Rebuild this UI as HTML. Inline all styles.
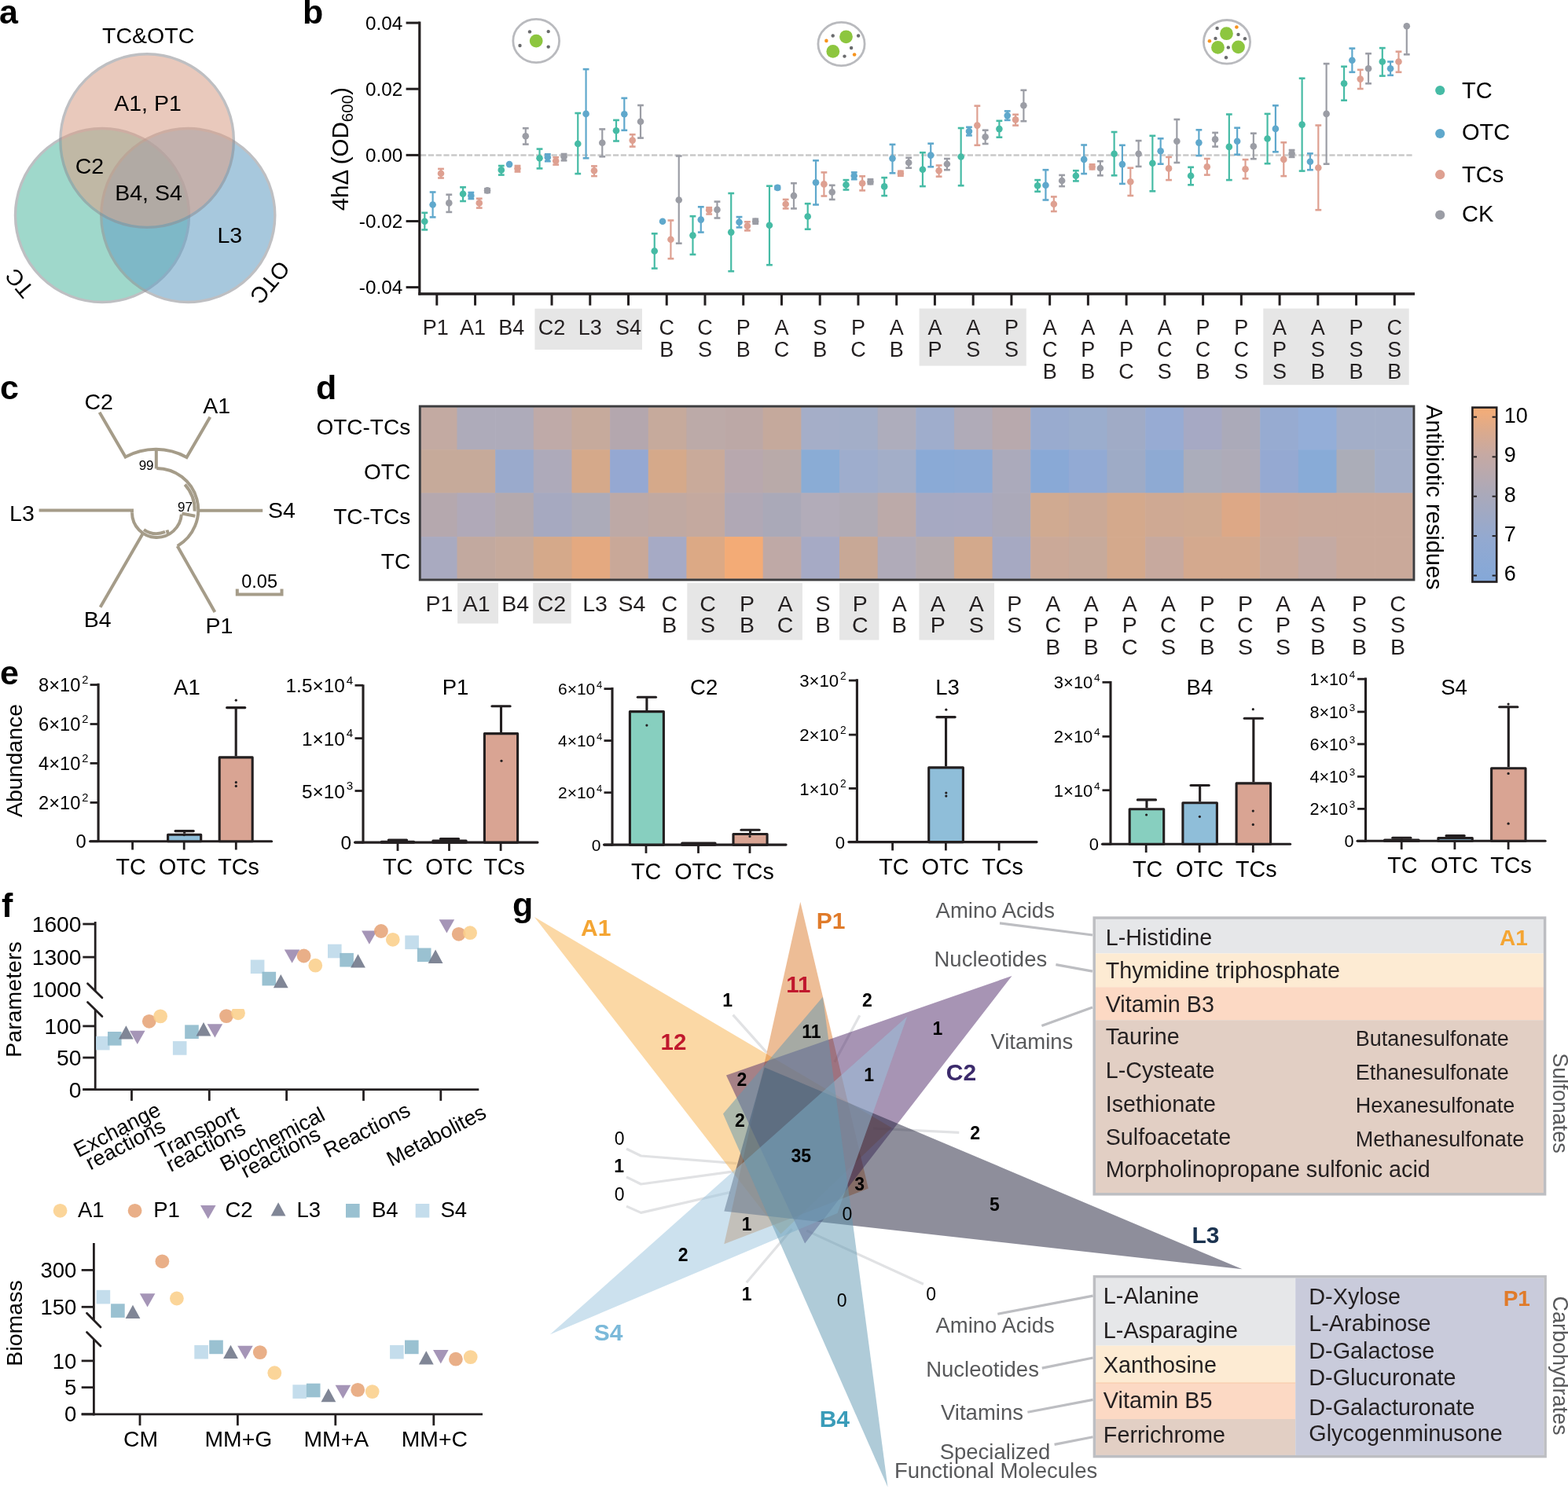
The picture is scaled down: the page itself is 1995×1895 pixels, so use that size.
<!DOCTYPE html>
<html><head><meta charset="utf-8"><title>Figure</title>
<style>
html,body{margin:0;padding:0;background:#fff;}
svg{display:block;}
</style></head>
<body>
<svg width="1995" height="1895" viewBox="0 0 1995 1895" font-family='"Liberation Sans", Arial, Helvetica, sans-serif'>
<rect width="1995" height="1895" fill="#fff"/>
<text x="-1" y="30" font-size="43" font-weight="bold" fill="#000">a</text>
<g opacity="0.57">
<circle cx="130" cy="274" r="110.5" fill="#58bba4" stroke="#8e8f95" stroke-width="3.4"/>
</g>
<g opacity="0.57">
<circle cx="239.3" cy="274" r="110.5" fill="#66a0c5" stroke="#8e8f95" stroke-width="3.4"/>
</g>
<g opacity="0.57">
<circle cx="187.1" cy="179.1" r="110.3" fill="#d9a18a" stroke="#8e8f95" stroke-width="3.4"/>
</g>
<text x="188.7" y="55.4" font-size="28.5" text-anchor="middle" fill="#000">TC&amp;OTC</text>
<text x="188" y="140.7" font-size="28.5" text-anchor="middle" fill="#000">A1, P1</text>
<text x="114" y="220.7" font-size="28.5" text-anchor="middle" fill="#000">C2</text>
<text x="189" y="254.8" font-size="28.5" text-anchor="middle" fill="#000">B4, S4</text>
<text x="292.3" y="309.2" font-size="28.5" text-anchor="middle" fill="#000">L3</text>
<text font-size="28.5" fill="#000" text-anchor="middle" transform="translate(24.6,360.4) rotate(230) translate(0,10)">TC</text>
<text font-size="28.5" fill="#000" text-anchor="middle" transform="translate(343.5,359.4) rotate(130) translate(0,10)">OTC</text>
<text x="385" y="30" font-size="43" font-weight="bold" fill="#000">b</text>
<rect x="680.4" y="392.8" width="136.6" height="52.2" fill="#e6e6e6"/>
<rect x="1169.6" y="392.6" width="136.2" height="73" fill="#e6e6e6"/>
<rect x="1607.3" y="392.6" width="185.4" height="97.2" fill="#e6e6e6"/>
<line x1="535" y1="197.5" x2="1798" y2="197.5" stroke="#c9c9c9" stroke-width="2.4" stroke-dasharray="7.2 2.6"/>
<line x1="533.8" y1="27.6" x2="533.8" y2="375.6" stroke="#231f20" stroke-width="3.2"/>
<line x1="532.3" y1="374" x2="1800" y2="374" stroke="#231f20" stroke-width="3.3"/>
<line x1="516.6" y1="29.1" x2="533.8" y2="29.1" stroke="#231f20" stroke-width="3"/>
<text x="512.2" y="37.8" font-size="24.3" text-anchor="end" fill="#000">0.04</text>
<line x1="516.6" y1="113.2" x2="533.8" y2="113.2" stroke="#231f20" stroke-width="3"/>
<text x="512.2" y="121.9" font-size="24.3" text-anchor="end" fill="#000">0.02</text>
<line x1="516.6" y1="197.4" x2="533.8" y2="197.4" stroke="#231f20" stroke-width="3"/>
<text x="512.2" y="206.1" font-size="24.3" text-anchor="end" fill="#000">0.00</text>
<line x1="516.6" y1="281.5" x2="533.8" y2="281.5" stroke="#231f20" stroke-width="3"/>
<text x="512.2" y="290.2" font-size="24.3" text-anchor="end" fill="#000">-0.02</text>
<line x1="516.6" y1="365.6" x2="533.8" y2="365.6" stroke="#231f20" stroke-width="3"/>
<text x="512.2" y="374.3" font-size="24.3" text-anchor="end" fill="#000">-0.04</text>
<line x1="555.8" y1="374" x2="555.8" y2="388.7" stroke="#231f20" stroke-width="3"/>
<line x1="604.54" y1="374" x2="604.54" y2="388.7" stroke="#231f20" stroke-width="3"/>
<line x1="653.28" y1="374" x2="653.28" y2="388.7" stroke="#231f20" stroke-width="3"/>
<line x1="702.02" y1="374" x2="702.02" y2="388.7" stroke="#231f20" stroke-width="3"/>
<line x1="750.76" y1="374" x2="750.76" y2="388.7" stroke="#231f20" stroke-width="3"/>
<line x1="799.5" y1="374" x2="799.5" y2="388.7" stroke="#231f20" stroke-width="3"/>
<line x1="848.24" y1="374" x2="848.24" y2="388.7" stroke="#231f20" stroke-width="3"/>
<line x1="896.98" y1="374" x2="896.98" y2="388.7" stroke="#231f20" stroke-width="3"/>
<line x1="945.72" y1="374" x2="945.72" y2="388.7" stroke="#231f20" stroke-width="3"/>
<line x1="994.46" y1="374" x2="994.46" y2="388.7" stroke="#231f20" stroke-width="3"/>
<line x1="1043.2" y1="374" x2="1043.2" y2="388.7" stroke="#231f20" stroke-width="3"/>
<line x1="1091.94" y1="374" x2="1091.94" y2="388.7" stroke="#231f20" stroke-width="3"/>
<line x1="1140.68" y1="374" x2="1140.68" y2="388.7" stroke="#231f20" stroke-width="3"/>
<line x1="1189.42" y1="374" x2="1189.42" y2="388.7" stroke="#231f20" stroke-width="3"/>
<line x1="1238.16" y1="374" x2="1238.16" y2="388.7" stroke="#231f20" stroke-width="3"/>
<line x1="1286.9" y1="374" x2="1286.9" y2="388.7" stroke="#231f20" stroke-width="3"/>
<line x1="1335.64" y1="374" x2="1335.64" y2="388.7" stroke="#231f20" stroke-width="3"/>
<line x1="1384.38" y1="374" x2="1384.38" y2="388.7" stroke="#231f20" stroke-width="3"/>
<line x1="1433.12" y1="374" x2="1433.12" y2="388.7" stroke="#231f20" stroke-width="3"/>
<line x1="1481.86" y1="374" x2="1481.86" y2="388.7" stroke="#231f20" stroke-width="3"/>
<line x1="1530.6" y1="374" x2="1530.6" y2="388.7" stroke="#231f20" stroke-width="3"/>
<line x1="1579.34" y1="374" x2="1579.34" y2="388.7" stroke="#231f20" stroke-width="3"/>
<line x1="1628.08" y1="374" x2="1628.08" y2="388.7" stroke="#231f20" stroke-width="3"/>
<line x1="1676.82" y1="374" x2="1676.82" y2="388.7" stroke="#231f20" stroke-width="3"/>
<line x1="1725.56" y1="374" x2="1725.56" y2="388.7" stroke="#231f20" stroke-width="3"/>
<line x1="1774.3" y1="374" x2="1774.3" y2="388.7" stroke="#231f20" stroke-width="3"/>
<text font-size="29.5" fill="#000" text-anchor="middle" transform="translate(442.6,189.7) rotate(-90)">4h&#916; (OD<tspan font-size="20.5" dy="6">600</tspan><tspan dy="-6">)</tspan></text>
<text x="554.3" y="425.6" font-size="27" text-anchor="middle" fill="#231f20">P1</text>
<text x="601.54" y="425.6" font-size="27" text-anchor="middle" fill="#231f20">A1</text>
<text x="650.78" y="425.6" font-size="27" text-anchor="middle" fill="#231f20">B4</text>
<text x="702.02" y="425.6" font-size="27" text-anchor="middle" fill="#231f20">C2</text>
<text x="750.76" y="425.6" font-size="27" text-anchor="middle" fill="#231f20">L3</text>
<text x="799.5" y="425.6" font-size="27" text-anchor="middle" fill="#231f20">S4</text>
<text x="848.24" y="425.6" font-size="27" text-anchor="middle" fill="#231f20">C</text>
<text x="848.24" y="453.6" font-size="27" text-anchor="middle" fill="#231f20">B</text>
<text x="896.98" y="425.6" font-size="27" text-anchor="middle" fill="#231f20">C</text>
<text x="896.98" y="453.6" font-size="27" text-anchor="middle" fill="#231f20">S</text>
<text x="945.72" y="425.6" font-size="27" text-anchor="middle" fill="#231f20">P</text>
<text x="945.72" y="453.6" font-size="27" text-anchor="middle" fill="#231f20">B</text>
<text x="994.46" y="425.6" font-size="27" text-anchor="middle" fill="#231f20">A</text>
<text x="994.46" y="453.6" font-size="27" text-anchor="middle" fill="#231f20">C</text>
<text x="1043.2" y="425.6" font-size="27" text-anchor="middle" fill="#231f20">S</text>
<text x="1043.2" y="453.6" font-size="27" text-anchor="middle" fill="#231f20">B</text>
<text x="1091.94" y="425.6" font-size="27" text-anchor="middle" fill="#231f20">P</text>
<text x="1091.94" y="453.6" font-size="27" text-anchor="middle" fill="#231f20">C</text>
<text x="1140.68" y="425.6" font-size="27" text-anchor="middle" fill="#231f20">A</text>
<text x="1140.68" y="453.6" font-size="27" text-anchor="middle" fill="#231f20">B</text>
<text x="1189.42" y="425.6" font-size="27" text-anchor="middle" fill="#231f20">A</text>
<text x="1189.42" y="453.6" font-size="27" text-anchor="middle" fill="#231f20">P</text>
<text x="1238.16" y="425.6" font-size="27" text-anchor="middle" fill="#231f20">A</text>
<text x="1238.16" y="453.6" font-size="27" text-anchor="middle" fill="#231f20">S</text>
<text x="1286.9" y="425.6" font-size="27" text-anchor="middle" fill="#231f20">P</text>
<text x="1286.9" y="453.6" font-size="27" text-anchor="middle" fill="#231f20">S</text>
<text x="1335.64" y="425.6" font-size="27" text-anchor="middle" fill="#231f20">A</text>
<text x="1335.64" y="453.6" font-size="27" text-anchor="middle" fill="#231f20">C</text>
<text x="1335.64" y="481.6" font-size="27" text-anchor="middle" fill="#231f20">B</text>
<text x="1384.38" y="425.6" font-size="27" text-anchor="middle" fill="#231f20">A</text>
<text x="1384.38" y="453.6" font-size="27" text-anchor="middle" fill="#231f20">P</text>
<text x="1384.38" y="481.6" font-size="27" text-anchor="middle" fill="#231f20">B</text>
<text x="1433.12" y="425.6" font-size="27" text-anchor="middle" fill="#231f20">A</text>
<text x="1433.12" y="453.6" font-size="27" text-anchor="middle" fill="#231f20">P</text>
<text x="1433.12" y="481.6" font-size="27" text-anchor="middle" fill="#231f20">C</text>
<text x="1481.86" y="425.6" font-size="27" text-anchor="middle" fill="#231f20">A</text>
<text x="1481.86" y="453.6" font-size="27" text-anchor="middle" fill="#231f20">C</text>
<text x="1481.86" y="481.6" font-size="27" text-anchor="middle" fill="#231f20">S</text>
<text x="1530.6" y="425.6" font-size="27" text-anchor="middle" fill="#231f20">P</text>
<text x="1530.6" y="453.6" font-size="27" text-anchor="middle" fill="#231f20">C</text>
<text x="1530.6" y="481.6" font-size="27" text-anchor="middle" fill="#231f20">B</text>
<text x="1579.34" y="425.6" font-size="27" text-anchor="middle" fill="#231f20">P</text>
<text x="1579.34" y="453.6" font-size="27" text-anchor="middle" fill="#231f20">C</text>
<text x="1579.34" y="481.6" font-size="27" text-anchor="middle" fill="#231f20">S</text>
<text x="1628.08" y="425.6" font-size="27" text-anchor="middle" fill="#231f20">A</text>
<text x="1628.08" y="453.6" font-size="27" text-anchor="middle" fill="#231f20">P</text>
<text x="1628.08" y="481.6" font-size="27" text-anchor="middle" fill="#231f20">S</text>
<text x="1676.82" y="425.6" font-size="27" text-anchor="middle" fill="#231f20">A</text>
<text x="1676.82" y="453.6" font-size="27" text-anchor="middle" fill="#231f20">S</text>
<text x="1676.82" y="481.6" font-size="27" text-anchor="middle" fill="#231f20">B</text>
<text x="1725.56" y="425.6" font-size="27" text-anchor="middle" fill="#231f20">P</text>
<text x="1725.56" y="453.6" font-size="27" text-anchor="middle" fill="#231f20">S</text>
<text x="1725.56" y="481.6" font-size="27" text-anchor="middle" fill="#231f20">B</text>
<text x="1774.3" y="425.6" font-size="27" text-anchor="middle" fill="#231f20">C</text>
<text x="1774.3" y="453.6" font-size="27" text-anchor="middle" fill="#231f20">S</text>
<text x="1774.3" y="481.6" font-size="27" text-anchor="middle" fill="#231f20">B</text>
<line x1="540.3" y1="270.8" x2="540.3" y2="292.4" stroke="#46bba5" stroke-width="2.2"/>
<line x1="536.4" y1="270.8" x2="544.2" y2="270.8" stroke="#46bba5" stroke-width="2.6"/>
<line x1="536.4" y1="292.4" x2="544.2" y2="292.4" stroke="#46bba5" stroke-width="2.6"/>
<circle cx="540.3" cy="281.7" r="4.3" fill="#46bba5"/>
<line x1="550.6" y1="244.5" x2="550.6" y2="276.4" stroke="#5fa8cc" stroke-width="2.2"/>
<line x1="546.7" y1="244.5" x2="554.5" y2="244.5" stroke="#5fa8cc" stroke-width="2.6"/>
<line x1="546.7" y1="276.4" x2="554.5" y2="276.4" stroke="#5fa8cc" stroke-width="2.6"/>
<circle cx="550.6" cy="260.5" r="4.3" fill="#5fa8cc"/>
<line x1="561" y1="214.9" x2="561" y2="226.5" stroke="#dea091" stroke-width="2.2"/>
<line x1="557.1" y1="214.9" x2="564.9" y2="214.9" stroke="#dea091" stroke-width="2.6"/>
<line x1="557.1" y1="226.5" x2="564.9" y2="226.5" stroke="#dea091" stroke-width="2.6"/>
<circle cx="561" cy="220.8" r="4.3" fill="#dea091"/>
<line x1="571.3" y1="247.7" x2="571.3" y2="269.9" stroke="#9b9da5" stroke-width="2.2"/>
<line x1="567.4" y1="247.7" x2="575.2" y2="247.7" stroke="#9b9da5" stroke-width="2.6"/>
<line x1="567.4" y1="269.9" x2="575.2" y2="269.9" stroke="#9b9da5" stroke-width="2.6"/>
<circle cx="571.3" cy="258.4" r="4.3" fill="#9b9da5"/>
<line x1="589.04" y1="238.3" x2="589.04" y2="256" stroke="#46bba5" stroke-width="2.2"/>
<line x1="585.14" y1="238.3" x2="592.94" y2="238.3" stroke="#46bba5" stroke-width="2.6"/>
<line x1="585.14" y1="256" x2="592.94" y2="256" stroke="#46bba5" stroke-width="2.6"/>
<circle cx="589.04" cy="246.8" r="4.3" fill="#46bba5"/>
<line x1="599.34" y1="245" x2="599.34" y2="253" stroke="#5fa8cc" stroke-width="2.2"/>
<line x1="595.44" y1="245" x2="603.24" y2="245" stroke="#5fa8cc" stroke-width="2.6"/>
<line x1="595.44" y1="253" x2="603.24" y2="253" stroke="#5fa8cc" stroke-width="2.6"/>
<circle cx="599.34" cy="249.1" r="4.3" fill="#5fa8cc"/>
<line x1="609.74" y1="252.7" x2="609.74" y2="264.6" stroke="#dea091" stroke-width="2.2"/>
<line x1="605.84" y1="252.7" x2="613.64" y2="252.7" stroke="#dea091" stroke-width="2.6"/>
<line x1="605.84" y1="264.6" x2="613.64" y2="264.6" stroke="#dea091" stroke-width="2.6"/>
<circle cx="609.74" cy="258.4" r="4.3" fill="#dea091"/>
<line x1="620.04" y1="240.2" x2="620.04" y2="245" stroke="#9b9da5" stroke-width="2.2"/>
<line x1="616.14" y1="240.2" x2="623.94" y2="240.2" stroke="#9b9da5" stroke-width="2.6"/>
<line x1="616.14" y1="245" x2="623.94" y2="245" stroke="#9b9da5" stroke-width="2.6"/>
<circle cx="620.04" cy="242.4" r="4.3" fill="#9b9da5"/>
<line x1="637.78" y1="211" x2="637.78" y2="222.6" stroke="#46bba5" stroke-width="2.2"/>
<line x1="633.88" y1="211" x2="641.68" y2="211" stroke="#46bba5" stroke-width="2.6"/>
<line x1="633.88" y1="222.6" x2="641.68" y2="222.6" stroke="#46bba5" stroke-width="2.6"/>
<circle cx="637.78" cy="216.4" r="4.3" fill="#46bba5"/>
<circle cx="648.08" cy="209.1" r="4.3" fill="#5fa8cc"/>
<line x1="658.48" y1="211" x2="658.48" y2="218.5" stroke="#dea091" stroke-width="2.2"/>
<line x1="654.58" y1="211" x2="662.38" y2="211" stroke="#dea091" stroke-width="2.6"/>
<line x1="654.58" y1="218.5" x2="662.38" y2="218.5" stroke="#dea091" stroke-width="2.6"/>
<circle cx="658.48" cy="214.4" r="4.3" fill="#dea091"/>
<line x1="668.78" y1="163.2" x2="668.78" y2="183.6" stroke="#9b9da5" stroke-width="2.2"/>
<line x1="664.88" y1="163.2" x2="672.68" y2="163.2" stroke="#9b9da5" stroke-width="2.6"/>
<line x1="664.88" y1="183.6" x2="672.68" y2="183.6" stroke="#9b9da5" stroke-width="2.6"/>
<circle cx="668.78" cy="173.3" r="4.3" fill="#9b9da5"/>
<line x1="686.52" y1="189.6" x2="686.52" y2="214.4" stroke="#46bba5" stroke-width="2.2"/>
<line x1="682.62" y1="189.6" x2="690.42" y2="189.6" stroke="#46bba5" stroke-width="2.6"/>
<line x1="682.62" y1="214.4" x2="690.42" y2="214.4" stroke="#46bba5" stroke-width="2.6"/>
<circle cx="686.52" cy="201.3" r="4.3" fill="#46bba5"/>
<line x1="696.82" y1="196.3" x2="696.82" y2="205.2" stroke="#5fa8cc" stroke-width="2.2"/>
<line x1="692.92" y1="196.3" x2="700.72" y2="196.3" stroke="#5fa8cc" stroke-width="2.6"/>
<line x1="692.92" y1="205.2" x2="700.72" y2="205.2" stroke="#5fa8cc" stroke-width="2.6"/>
<circle cx="696.82" cy="200.2" r="4.3" fill="#5fa8cc"/>
<line x1="707.22" y1="200.2" x2="707.22" y2="209.6" stroke="#dea091" stroke-width="2.2"/>
<line x1="703.32" y1="200.2" x2="711.12" y2="200.2" stroke="#dea091" stroke-width="2.6"/>
<line x1="703.32" y1="209.6" x2="711.12" y2="209.6" stroke="#dea091" stroke-width="2.6"/>
<circle cx="707.22" cy="204.8" r="4.3" fill="#dea091"/>
<line x1="717.52" y1="196" x2="717.52" y2="204.3" stroke="#9b9da5" stroke-width="2.2"/>
<line x1="713.62" y1="196" x2="721.42" y2="196" stroke="#9b9da5" stroke-width="2.6"/>
<line x1="713.62" y1="204.3" x2="721.42" y2="204.3" stroke="#9b9da5" stroke-width="2.6"/>
<circle cx="717.52" cy="199.5" r="4.3" fill="#9b9da5"/>
<line x1="735.26" y1="144" x2="735.26" y2="221.1" stroke="#46bba5" stroke-width="2.2"/>
<line x1="731.36" y1="144" x2="739.16" y2="144" stroke="#46bba5" stroke-width="2.6"/>
<line x1="731.36" y1="221.1" x2="739.16" y2="221.1" stroke="#46bba5" stroke-width="2.6"/>
<circle cx="735.26" cy="183" r="4.3" fill="#46bba5"/>
<line x1="745.56" y1="88.1" x2="745.56" y2="201.3" stroke="#5fa8cc" stroke-width="2.2"/>
<line x1="741.66" y1="88.1" x2="749.46" y2="88.1" stroke="#5fa8cc" stroke-width="2.6"/>
<line x1="741.66" y1="201.3" x2="749.46" y2="201.3" stroke="#5fa8cc" stroke-width="2.6"/>
<circle cx="745.56" cy="144.9" r="4.3" fill="#5fa8cc"/>
<line x1="755.96" y1="211.4" x2="755.96" y2="224.1" stroke="#dea091" stroke-width="2.2"/>
<line x1="752.06" y1="211.4" x2="759.86" y2="211.4" stroke="#dea091" stroke-width="2.6"/>
<line x1="752.06" y1="224.1" x2="759.86" y2="224.1" stroke="#dea091" stroke-width="2.6"/>
<circle cx="755.96" cy="217.2" r="4.3" fill="#dea091"/>
<line x1="766.26" y1="164.4" x2="766.26" y2="199.3" stroke="#9b9da5" stroke-width="2.2"/>
<line x1="762.36" y1="164.4" x2="770.16" y2="164.4" stroke="#9b9da5" stroke-width="2.6"/>
<line x1="762.36" y1="199.3" x2="770.16" y2="199.3" stroke="#9b9da5" stroke-width="2.6"/>
<circle cx="766.26" cy="181.8" r="4.3" fill="#9b9da5"/>
<line x1="784" y1="152.9" x2="784" y2="179.5" stroke="#46bba5" stroke-width="2.2"/>
<line x1="780.1" y1="152.9" x2="787.9" y2="152.9" stroke="#46bba5" stroke-width="2.6"/>
<line x1="780.1" y1="179.5" x2="787.9" y2="179.5" stroke="#46bba5" stroke-width="2.6"/>
<circle cx="784" cy="166.2" r="4.3" fill="#46bba5"/>
<line x1="794.3" y1="124.9" x2="794.3" y2="165.8" stroke="#5fa8cc" stroke-width="2.2"/>
<line x1="790.4" y1="124.9" x2="798.2" y2="124.9" stroke="#5fa8cc" stroke-width="2.6"/>
<line x1="790.4" y1="165.8" x2="798.2" y2="165.8" stroke="#5fa8cc" stroke-width="2.6"/>
<circle cx="794.3" cy="145.3" r="4.3" fill="#5fa8cc"/>
<line x1="804.7" y1="171.2" x2="804.7" y2="186.6" stroke="#dea091" stroke-width="2.2"/>
<line x1="800.8" y1="171.2" x2="808.6" y2="171.2" stroke="#dea091" stroke-width="2.6"/>
<line x1="800.8" y1="186.6" x2="808.6" y2="186.6" stroke="#dea091" stroke-width="2.6"/>
<circle cx="804.7" cy="178.6" r="4.3" fill="#dea091"/>
<line x1="815" y1="134" x2="815" y2="175.6" stroke="#9b9da5" stroke-width="2.2"/>
<line x1="811.1" y1="134" x2="818.9" y2="134" stroke="#9b9da5" stroke-width="2.6"/>
<line x1="811.1" y1="175.6" x2="818.9" y2="175.6" stroke="#9b9da5" stroke-width="2.6"/>
<circle cx="815" cy="154.7" r="4.3" fill="#9b9da5"/>
<line x1="832.74" y1="297.3" x2="832.74" y2="341.6" stroke="#46bba5" stroke-width="2.2"/>
<line x1="828.84" y1="297.3" x2="836.64" y2="297.3" stroke="#46bba5" stroke-width="2.6"/>
<line x1="828.84" y1="341.6" x2="836.64" y2="341.6" stroke="#46bba5" stroke-width="2.6"/>
<circle cx="832.74" cy="319.5" r="4.3" fill="#46bba5"/>
<circle cx="843.04" cy="281.7" r="4.3" fill="#5fa8cc"/>
<line x1="853.44" y1="280.5" x2="853.44" y2="329.2" stroke="#dea091" stroke-width="2.2"/>
<line x1="849.54" y1="280.5" x2="857.34" y2="280.5" stroke="#dea091" stroke-width="2.6"/>
<line x1="849.54" y1="329.2" x2="857.34" y2="329.2" stroke="#dea091" stroke-width="2.6"/>
<circle cx="853.44" cy="304.8" r="4.3" fill="#dea091"/>
<line x1="863.74" y1="198.5" x2="863.74" y2="309.7" stroke="#9b9da5" stroke-width="2.2"/>
<line x1="859.84" y1="198.5" x2="867.64" y2="198.5" stroke="#9b9da5" stroke-width="2.6"/>
<line x1="859.84" y1="309.7" x2="867.64" y2="309.7" stroke="#9b9da5" stroke-width="2.6"/>
<circle cx="863.74" cy="254.5" r="4.3" fill="#9b9da5"/>
<line x1="881.48" y1="275.2" x2="881.48" y2="323.9" stroke="#46bba5" stroke-width="2.2"/>
<line x1="877.58" y1="275.2" x2="885.38" y2="275.2" stroke="#46bba5" stroke-width="2.6"/>
<line x1="877.58" y1="323.9" x2="885.38" y2="323.9" stroke="#46bba5" stroke-width="2.6"/>
<circle cx="881.48" cy="299.6" r="4.3" fill="#46bba5"/>
<line x1="891.78" y1="263.3" x2="891.78" y2="295.6" stroke="#5fa8cc" stroke-width="2.2"/>
<line x1="887.88" y1="263.3" x2="895.68" y2="263.3" stroke="#5fa8cc" stroke-width="2.6"/>
<line x1="887.88" y1="295.6" x2="895.68" y2="295.6" stroke="#5fa8cc" stroke-width="2.6"/>
<circle cx="891.78" cy="279.6" r="4.3" fill="#5fa8cc"/>
<line x1="902.18" y1="264.2" x2="902.18" y2="272.5" stroke="#dea091" stroke-width="2.2"/>
<line x1="898.28" y1="264.2" x2="906.08" y2="264.2" stroke="#dea091" stroke-width="2.6"/>
<line x1="898.28" y1="272.5" x2="906.08" y2="272.5" stroke="#dea091" stroke-width="2.6"/>
<circle cx="902.18" cy="267.2" r="4.3" fill="#dea091"/>
<line x1="912.48" y1="256.6" x2="912.48" y2="277.5" stroke="#9b9da5" stroke-width="2.2"/>
<line x1="908.58" y1="256.6" x2="916.38" y2="256.6" stroke="#9b9da5" stroke-width="2.6"/>
<line x1="908.58" y1="277.5" x2="916.38" y2="277.5" stroke="#9b9da5" stroke-width="2.6"/>
<circle cx="912.48" cy="266.9" r="4.3" fill="#9b9da5"/>
<line x1="930.22" y1="246" x2="930.22" y2="345.2" stroke="#46bba5" stroke-width="2.2"/>
<line x1="926.32" y1="246" x2="934.12" y2="246" stroke="#46bba5" stroke-width="2.6"/>
<line x1="926.32" y1="345.2" x2="934.12" y2="345.2" stroke="#46bba5" stroke-width="2.6"/>
<circle cx="930.22" cy="295.6" r="4.3" fill="#46bba5"/>
<line x1="940.52" y1="276.1" x2="940.52" y2="289.4" stroke="#5fa8cc" stroke-width="2.2"/>
<line x1="936.62" y1="276.1" x2="944.42" y2="276.1" stroke="#5fa8cc" stroke-width="2.6"/>
<line x1="936.62" y1="289.4" x2="944.42" y2="289.4" stroke="#5fa8cc" stroke-width="2.6"/>
<circle cx="940.52" cy="282.8" r="4.3" fill="#5fa8cc"/>
<line x1="950.92" y1="282.3" x2="950.92" y2="293.4" stroke="#dea091" stroke-width="2.2"/>
<line x1="947.02" y1="282.3" x2="954.82" y2="282.3" stroke="#dea091" stroke-width="2.6"/>
<line x1="947.02" y1="293.4" x2="954.82" y2="293.4" stroke="#dea091" stroke-width="2.6"/>
<circle cx="950.92" cy="287.6" r="4.3" fill="#dea091"/>
<line x1="961.22" y1="278.7" x2="961.22" y2="284.7" stroke="#9b9da5" stroke-width="2.2"/>
<line x1="957.32" y1="278.7" x2="965.12" y2="278.7" stroke="#9b9da5" stroke-width="2.6"/>
<line x1="957.32" y1="284.7" x2="965.12" y2="284.7" stroke="#9b9da5" stroke-width="2.6"/>
<circle cx="961.22" cy="281.7" r="4.3" fill="#9b9da5"/>
<line x1="978.96" y1="236.7" x2="978.96" y2="337.2" stroke="#46bba5" stroke-width="2.2"/>
<line x1="975.06" y1="236.7" x2="982.86" y2="236.7" stroke="#46bba5" stroke-width="2.6"/>
<line x1="975.06" y1="337.2" x2="982.86" y2="337.2" stroke="#46bba5" stroke-width="2.6"/>
<circle cx="978.96" cy="286.7" r="4.3" fill="#46bba5"/>
<line x1="989.26" y1="236.9" x2="989.26" y2="240.9" stroke="#5fa8cc" stroke-width="2.2"/>
<line x1="985.36" y1="236.9" x2="993.16" y2="236.9" stroke="#5fa8cc" stroke-width="2.6"/>
<line x1="985.36" y1="240.9" x2="993.16" y2="240.9" stroke="#5fa8cc" stroke-width="2.6"/>
<circle cx="989.26" cy="238.9" r="4.3" fill="#5fa8cc"/>
<line x1="999.66" y1="253.9" x2="999.66" y2="265.4" stroke="#dea091" stroke-width="2.2"/>
<line x1="995.76" y1="253.9" x2="1003.56" y2="253.9" stroke="#dea091" stroke-width="2.6"/>
<line x1="995.76" y1="265.4" x2="1003.56" y2="265.4" stroke="#dea091" stroke-width="2.6"/>
<circle cx="999.66" cy="259.8" r="4.3" fill="#dea091"/>
<line x1="1009.96" y1="233.2" x2="1009.96" y2="265.4" stroke="#9b9da5" stroke-width="2.2"/>
<line x1="1006.06" y1="233.2" x2="1013.86" y2="233.2" stroke="#9b9da5" stroke-width="2.6"/>
<line x1="1006.06" y1="265.4" x2="1013.86" y2="265.4" stroke="#9b9da5" stroke-width="2.6"/>
<circle cx="1009.96" cy="249.1" r="4.3" fill="#9b9da5"/>
<line x1="1027.7" y1="259.2" x2="1027.7" y2="291.7" stroke="#46bba5" stroke-width="2.2"/>
<line x1="1023.8" y1="259.2" x2="1031.6" y2="259.2" stroke="#46bba5" stroke-width="2.6"/>
<line x1="1023.8" y1="291.7" x2="1031.6" y2="291.7" stroke="#46bba5" stroke-width="2.6"/>
<circle cx="1027.7" cy="275.5" r="4.3" fill="#46bba5"/>
<line x1="1038" y1="204.3" x2="1038" y2="260.5" stroke="#5fa8cc" stroke-width="2.2"/>
<line x1="1034.1" y1="204.3" x2="1041.9" y2="204.3" stroke="#5fa8cc" stroke-width="2.6"/>
<line x1="1034.1" y1="260.5" x2="1041.9" y2="260.5" stroke="#5fa8cc" stroke-width="2.6"/>
<circle cx="1038" cy="232.3" r="4.3" fill="#5fa8cc"/>
<line x1="1048.4" y1="219.4" x2="1048.4" y2="249.5" stroke="#dea091" stroke-width="2.2"/>
<line x1="1044.5" y1="219.4" x2="1052.3" y2="219.4" stroke="#dea091" stroke-width="2.6"/>
<line x1="1044.5" y1="249.5" x2="1052.3" y2="249.5" stroke="#dea091" stroke-width="2.6"/>
<circle cx="1048.4" cy="234.4" r="4.3" fill="#dea091"/>
<line x1="1058.7" y1="235.8" x2="1058.7" y2="253.9" stroke="#9b9da5" stroke-width="2.2"/>
<line x1="1054.8" y1="235.8" x2="1062.6" y2="235.8" stroke="#9b9da5" stroke-width="2.6"/>
<line x1="1054.8" y1="253.9" x2="1062.6" y2="253.9" stroke="#9b9da5" stroke-width="2.6"/>
<circle cx="1058.7" cy="244.5" r="4.3" fill="#9b9da5"/>
<line x1="1076.44" y1="229.1" x2="1076.44" y2="241.5" stroke="#46bba5" stroke-width="2.2"/>
<line x1="1072.54" y1="229.1" x2="1080.34" y2="229.1" stroke="#46bba5" stroke-width="2.6"/>
<line x1="1072.54" y1="241.5" x2="1080.34" y2="241.5" stroke="#46bba5" stroke-width="2.6"/>
<circle cx="1076.44" cy="235.3" r="4.3" fill="#46bba5"/>
<line x1="1086.74" y1="219.4" x2="1086.74" y2="228.2" stroke="#5fa8cc" stroke-width="2.2"/>
<line x1="1082.84" y1="219.4" x2="1090.64" y2="219.4" stroke="#5fa8cc" stroke-width="2.6"/>
<line x1="1082.84" y1="228.2" x2="1090.64" y2="228.2" stroke="#5fa8cc" stroke-width="2.6"/>
<circle cx="1086.74" cy="223.8" r="4.3" fill="#5fa8cc"/>
<line x1="1097.14" y1="224.3" x2="1097.14" y2="242.4" stroke="#dea091" stroke-width="2.2"/>
<line x1="1093.24" y1="224.3" x2="1101.04" y2="224.3" stroke="#dea091" stroke-width="2.6"/>
<line x1="1093.24" y1="242.4" x2="1101.04" y2="242.4" stroke="#dea091" stroke-width="2.6"/>
<circle cx="1097.14" cy="233.2" r="4.3" fill="#dea091"/>
<line x1="1107.44" y1="228.2" x2="1107.44" y2="234.2" stroke="#9b9da5" stroke-width="2.2"/>
<line x1="1103.54" y1="228.2" x2="1111.34" y2="228.2" stroke="#9b9da5" stroke-width="2.6"/>
<line x1="1103.54" y1="234.2" x2="1111.34" y2="234.2" stroke="#9b9da5" stroke-width="2.6"/>
<circle cx="1107.44" cy="231.2" r="4.3" fill="#9b9da5"/>
<line x1="1125.18" y1="226.1" x2="1125.18" y2="249.1" stroke="#46bba5" stroke-width="2.2"/>
<line x1="1121.28" y1="226.1" x2="1129.08" y2="226.1" stroke="#46bba5" stroke-width="2.6"/>
<line x1="1121.28" y1="249.1" x2="1129.08" y2="249.1" stroke="#46bba5" stroke-width="2.6"/>
<circle cx="1125.18" cy="237.4" r="4.3" fill="#46bba5"/>
<line x1="1135.48" y1="183.9" x2="1135.48" y2="220.3" stroke="#5fa8cc" stroke-width="2.2"/>
<line x1="1131.58" y1="183.9" x2="1139.38" y2="183.9" stroke="#5fa8cc" stroke-width="2.6"/>
<line x1="1131.58" y1="220.3" x2="1139.38" y2="220.3" stroke="#5fa8cc" stroke-width="2.6"/>
<circle cx="1135.48" cy="201.6" r="4.3" fill="#5fa8cc"/>
<line x1="1145.88" y1="217.8" x2="1145.88" y2="223.8" stroke="#dea091" stroke-width="2.2"/>
<line x1="1141.98" y1="217.8" x2="1149.78" y2="217.8" stroke="#dea091" stroke-width="2.6"/>
<line x1="1141.98" y1="223.8" x2="1149.78" y2="223.8" stroke="#dea091" stroke-width="2.6"/>
<circle cx="1145.88" cy="220.8" r="4.3" fill="#dea091"/>
<line x1="1156.18" y1="200.8" x2="1156.18" y2="213.7" stroke="#9b9da5" stroke-width="2.2"/>
<line x1="1152.28" y1="200.8" x2="1160.08" y2="200.8" stroke="#9b9da5" stroke-width="2.6"/>
<line x1="1152.28" y1="213.7" x2="1160.08" y2="213.7" stroke="#9b9da5" stroke-width="2.6"/>
<circle cx="1156.18" cy="207" r="4.3" fill="#9b9da5"/>
<line x1="1173.92" y1="194.2" x2="1173.92" y2="237.1" stroke="#46bba5" stroke-width="2.2"/>
<line x1="1170.02" y1="194.2" x2="1177.82" y2="194.2" stroke="#46bba5" stroke-width="2.6"/>
<line x1="1170.02" y1="237.1" x2="1177.82" y2="237.1" stroke="#46bba5" stroke-width="2.6"/>
<circle cx="1173.92" cy="215.8" r="4.3" fill="#46bba5"/>
<line x1="1184.22" y1="182.7" x2="1184.22" y2="212.3" stroke="#5fa8cc" stroke-width="2.2"/>
<line x1="1180.32" y1="182.7" x2="1188.12" y2="182.7" stroke="#5fa8cc" stroke-width="2.6"/>
<line x1="1180.32" y1="212.3" x2="1188.12" y2="212.3" stroke="#5fa8cc" stroke-width="2.6"/>
<circle cx="1184.22" cy="197.6" r="4.3" fill="#5fa8cc"/>
<line x1="1194.62" y1="210.5" x2="1194.62" y2="224.7" stroke="#dea091" stroke-width="2.2"/>
<line x1="1190.72" y1="210.5" x2="1198.52" y2="210.5" stroke="#dea091" stroke-width="2.6"/>
<line x1="1190.72" y1="224.7" x2="1198.52" y2="224.7" stroke="#dea091" stroke-width="2.6"/>
<circle cx="1194.62" cy="217.2" r="4.3" fill="#dea091"/>
<line x1="1204.92" y1="202" x2="1204.92" y2="216.2" stroke="#9b9da5" stroke-width="2.2"/>
<line x1="1201.02" y1="202" x2="1208.82" y2="202" stroke="#9b9da5" stroke-width="2.6"/>
<line x1="1201.02" y1="216.2" x2="1208.82" y2="216.2" stroke="#9b9da5" stroke-width="2.6"/>
<circle cx="1204.92" cy="208.7" r="4.3" fill="#9b9da5"/>
<line x1="1222.66" y1="163" x2="1222.66" y2="236.2" stroke="#46bba5" stroke-width="2.2"/>
<line x1="1218.76" y1="163" x2="1226.56" y2="163" stroke="#46bba5" stroke-width="2.6"/>
<line x1="1218.76" y1="236.2" x2="1226.56" y2="236.2" stroke="#46bba5" stroke-width="2.6"/>
<circle cx="1222.66" cy="199.5" r="4.3" fill="#46bba5"/>
<line x1="1232.96" y1="161.8" x2="1232.96" y2="172.4" stroke="#5fa8cc" stroke-width="2.2"/>
<line x1="1229.06" y1="161.8" x2="1236.86" y2="161.8" stroke="#5fa8cc" stroke-width="2.6"/>
<line x1="1229.06" y1="172.4" x2="1236.86" y2="172.4" stroke="#5fa8cc" stroke-width="2.6"/>
<circle cx="1232.96" cy="167.1" r="4.3" fill="#5fa8cc"/>
<line x1="1243.36" y1="134.7" x2="1243.36" y2="184.8" stroke="#dea091" stroke-width="2.2"/>
<line x1="1239.46" y1="134.7" x2="1247.26" y2="134.7" stroke="#dea091" stroke-width="2.6"/>
<line x1="1239.46" y1="184.8" x2="1247.26" y2="184.8" stroke="#dea091" stroke-width="2.6"/>
<circle cx="1243.36" cy="159.6" r="4.3" fill="#dea091"/>
<line x1="1253.66" y1="165.7" x2="1253.66" y2="183" stroke="#9b9da5" stroke-width="2.2"/>
<line x1="1249.76" y1="165.7" x2="1257.56" y2="165.7" stroke="#9b9da5" stroke-width="2.6"/>
<line x1="1249.76" y1="183" x2="1257.56" y2="183" stroke="#9b9da5" stroke-width="2.6"/>
<circle cx="1253.66" cy="174.2" r="4.3" fill="#9b9da5"/>
<line x1="1271.4" y1="153.8" x2="1271.4" y2="174.7" stroke="#46bba5" stroke-width="2.2"/>
<line x1="1267.5" y1="153.8" x2="1275.3" y2="153.8" stroke="#46bba5" stroke-width="2.6"/>
<line x1="1267.5" y1="174.7" x2="1275.3" y2="174.7" stroke="#46bba5" stroke-width="2.6"/>
<circle cx="1271.4" cy="164.1" r="4.3" fill="#46bba5"/>
<line x1="1281.7" y1="141.4" x2="1281.7" y2="152.9" stroke="#5fa8cc" stroke-width="2.2"/>
<line x1="1277.8" y1="141.4" x2="1285.6" y2="141.4" stroke="#5fa8cc" stroke-width="2.6"/>
<line x1="1277.8" y1="152.9" x2="1285.6" y2="152.9" stroke="#5fa8cc" stroke-width="2.6"/>
<circle cx="1281.7" cy="147.1" r="4.3" fill="#5fa8cc"/>
<line x1="1292.1" y1="145.8" x2="1292.1" y2="159.6" stroke="#dea091" stroke-width="2.2"/>
<line x1="1288.2" y1="145.8" x2="1296" y2="145.8" stroke="#dea091" stroke-width="2.6"/>
<line x1="1288.2" y1="159.6" x2="1296" y2="159.6" stroke="#dea091" stroke-width="2.6"/>
<circle cx="1292.1" cy="152.4" r="4.3" fill="#dea091"/>
<line x1="1302.4" y1="114.8" x2="1302.4" y2="154.2" stroke="#9b9da5" stroke-width="2.2"/>
<line x1="1298.5" y1="114.8" x2="1306.3" y2="114.8" stroke="#9b9da5" stroke-width="2.6"/>
<line x1="1298.5" y1="154.2" x2="1306.3" y2="154.2" stroke="#9b9da5" stroke-width="2.6"/>
<circle cx="1302.4" cy="134.3" r="4.3" fill="#9b9da5"/>
<line x1="1320.14" y1="229.1" x2="1320.14" y2="243.8" stroke="#46bba5" stroke-width="2.2"/>
<line x1="1316.24" y1="229.1" x2="1324.04" y2="229.1" stroke="#46bba5" stroke-width="2.6"/>
<line x1="1316.24" y1="243.8" x2="1324.04" y2="243.8" stroke="#46bba5" stroke-width="2.6"/>
<circle cx="1320.14" cy="236.2" r="4.3" fill="#46bba5"/>
<line x1="1330.44" y1="216.2" x2="1330.44" y2="254.5" stroke="#5fa8cc" stroke-width="2.2"/>
<line x1="1326.54" y1="216.2" x2="1334.34" y2="216.2" stroke="#5fa8cc" stroke-width="2.6"/>
<line x1="1326.54" y1="254.5" x2="1334.34" y2="254.5" stroke="#5fa8cc" stroke-width="2.6"/>
<circle cx="1330.44" cy="235.7" r="4.3" fill="#5fa8cc"/>
<line x1="1340.84" y1="250.4" x2="1340.84" y2="269" stroke="#dea091" stroke-width="2.2"/>
<line x1="1336.94" y1="250.4" x2="1344.74" y2="250.4" stroke="#dea091" stroke-width="2.6"/>
<line x1="1336.94" y1="269" x2="1344.74" y2="269" stroke="#dea091" stroke-width="2.6"/>
<circle cx="1340.84" cy="259.8" r="4.3" fill="#dea091"/>
<line x1="1351.14" y1="222.9" x2="1351.14" y2="237.1" stroke="#9b9da5" stroke-width="2.2"/>
<line x1="1347.24" y1="222.9" x2="1355.04" y2="222.9" stroke="#9b9da5" stroke-width="2.6"/>
<line x1="1347.24" y1="237.1" x2="1355.04" y2="237.1" stroke="#9b9da5" stroke-width="2.6"/>
<circle cx="1351.14" cy="230" r="4.3" fill="#9b9da5"/>
<line x1="1368.88" y1="217.2" x2="1368.88" y2="230.4" stroke="#46bba5" stroke-width="2.2"/>
<line x1="1364.98" y1="217.2" x2="1372.78" y2="217.2" stroke="#46bba5" stroke-width="2.6"/>
<line x1="1364.98" y1="230.4" x2="1372.78" y2="230.4" stroke="#46bba5" stroke-width="2.6"/>
<circle cx="1368.88" cy="223.8" r="4.3" fill="#46bba5"/>
<line x1="1379.18" y1="184.5" x2="1379.18" y2="221.1" stroke="#5fa8cc" stroke-width="2.2"/>
<line x1="1375.28" y1="184.5" x2="1383.08" y2="184.5" stroke="#5fa8cc" stroke-width="2.6"/>
<line x1="1375.28" y1="221.1" x2="1383.08" y2="221.1" stroke="#5fa8cc" stroke-width="2.6"/>
<circle cx="1379.18" cy="202.9" r="4.3" fill="#5fa8cc"/>
<line x1="1389.58" y1="209.3" x2="1389.58" y2="215.3" stroke="#dea091" stroke-width="2.2"/>
<line x1="1385.68" y1="209.3" x2="1393.48" y2="209.3" stroke="#dea091" stroke-width="2.6"/>
<line x1="1385.68" y1="215.3" x2="1393.48" y2="215.3" stroke="#dea091" stroke-width="2.6"/>
<circle cx="1389.58" cy="212.3" r="4.3" fill="#dea091"/>
<line x1="1399.88" y1="205.2" x2="1399.88" y2="223.3" stroke="#9b9da5" stroke-width="2.2"/>
<line x1="1395.98" y1="205.2" x2="1403.78" y2="205.2" stroke="#9b9da5" stroke-width="2.6"/>
<line x1="1395.98" y1="223.3" x2="1403.78" y2="223.3" stroke="#9b9da5" stroke-width="2.6"/>
<circle cx="1399.88" cy="214" r="4.3" fill="#9b9da5"/>
<line x1="1417.62" y1="168" x2="1417.62" y2="223.3" stroke="#46bba5" stroke-width="2.2"/>
<line x1="1413.72" y1="168" x2="1421.52" y2="168" stroke="#46bba5" stroke-width="2.6"/>
<line x1="1413.72" y1="223.3" x2="1421.52" y2="223.3" stroke="#46bba5" stroke-width="2.6"/>
<circle cx="1417.62" cy="195.8" r="4.3" fill="#46bba5"/>
<line x1="1427.92" y1="184.8" x2="1427.92" y2="233.9" stroke="#5fa8cc" stroke-width="2.2"/>
<line x1="1424.02" y1="184.8" x2="1431.82" y2="184.8" stroke="#5fa8cc" stroke-width="2.6"/>
<line x1="1424.02" y1="233.9" x2="1431.82" y2="233.9" stroke="#5fa8cc" stroke-width="2.6"/>
<circle cx="1427.92" cy="209.1" r="4.3" fill="#5fa8cc"/>
<line x1="1438.32" y1="213.7" x2="1438.32" y2="249" stroke="#dea091" stroke-width="2.2"/>
<line x1="1434.42" y1="213.7" x2="1442.22" y2="213.7" stroke="#dea091" stroke-width="2.6"/>
<line x1="1434.42" y1="249" x2="1442.22" y2="249" stroke="#dea091" stroke-width="2.6"/>
<circle cx="1438.32" cy="231.2" r="4.3" fill="#dea091"/>
<line x1="1448.62" y1="179.1" x2="1448.62" y2="211.9" stroke="#9b9da5" stroke-width="2.2"/>
<line x1="1444.72" y1="179.1" x2="1452.52" y2="179.1" stroke="#9b9da5" stroke-width="2.6"/>
<line x1="1444.72" y1="211.9" x2="1452.52" y2="211.9" stroke="#9b9da5" stroke-width="2.6"/>
<circle cx="1448.62" cy="195.8" r="4.3" fill="#9b9da5"/>
<line x1="1466.36" y1="172.8" x2="1466.36" y2="243.3" stroke="#46bba5" stroke-width="2.2"/>
<line x1="1462.46" y1="172.8" x2="1470.26" y2="172.8" stroke="#46bba5" stroke-width="2.6"/>
<line x1="1462.46" y1="243.3" x2="1470.26" y2="243.3" stroke="#46bba5" stroke-width="2.6"/>
<circle cx="1466.36" cy="207.8" r="4.3" fill="#46bba5"/>
<line x1="1476.66" y1="176.3" x2="1476.66" y2="208.7" stroke="#5fa8cc" stroke-width="2.2"/>
<line x1="1472.76" y1="176.3" x2="1480.56" y2="176.3" stroke="#5fa8cc" stroke-width="2.6"/>
<line x1="1472.76" y1="208.7" x2="1480.56" y2="208.7" stroke="#5fa8cc" stroke-width="2.6"/>
<circle cx="1476.66" cy="192.2" r="4.3" fill="#5fa8cc"/>
<line x1="1487.06" y1="199.9" x2="1487.06" y2="229.1" stroke="#dea091" stroke-width="2.2"/>
<line x1="1483.16" y1="199.9" x2="1490.96" y2="199.9" stroke="#dea091" stroke-width="2.6"/>
<line x1="1483.16" y1="229.1" x2="1490.96" y2="229.1" stroke="#dea091" stroke-width="2.6"/>
<circle cx="1487.06" cy="214.4" r="4.3" fill="#dea091"/>
<line x1="1497.36" y1="152" x2="1497.36" y2="207" stroke="#9b9da5" stroke-width="2.2"/>
<line x1="1493.46" y1="152" x2="1501.26" y2="152" stroke="#9b9da5" stroke-width="2.6"/>
<line x1="1493.46" y1="207" x2="1501.26" y2="207" stroke="#9b9da5" stroke-width="2.6"/>
<circle cx="1497.36" cy="179.8" r="4.3" fill="#9b9da5"/>
<line x1="1515.1" y1="212.8" x2="1515.1" y2="235.3" stroke="#46bba5" stroke-width="2.2"/>
<line x1="1511.2" y1="212.8" x2="1519" y2="212.8" stroke="#46bba5" stroke-width="2.6"/>
<line x1="1511.2" y1="235.3" x2="1519" y2="235.3" stroke="#46bba5" stroke-width="2.6"/>
<circle cx="1515.1" cy="223.8" r="4.3" fill="#46bba5"/>
<line x1="1525.4" y1="165.3" x2="1525.4" y2="198.1" stroke="#5fa8cc" stroke-width="2.2"/>
<line x1="1521.5" y1="165.3" x2="1529.3" y2="165.3" stroke="#5fa8cc" stroke-width="2.6"/>
<line x1="1521.5" y1="198.1" x2="1529.3" y2="198.1" stroke="#5fa8cc" stroke-width="2.6"/>
<circle cx="1525.4" cy="181.6" r="4.3" fill="#5fa8cc"/>
<line x1="1535.8" y1="202" x2="1535.8" y2="222.6" stroke="#dea091" stroke-width="2.2"/>
<line x1="1531.9" y1="202" x2="1539.7" y2="202" stroke="#dea091" stroke-width="2.6"/>
<line x1="1531.9" y1="222.6" x2="1539.7" y2="222.6" stroke="#dea091" stroke-width="2.6"/>
<circle cx="1535.8" cy="212.3" r="4.3" fill="#dea091"/>
<line x1="1546.1" y1="168.9" x2="1546.1" y2="186.6" stroke="#9b9da5" stroke-width="2.2"/>
<line x1="1542.2" y1="168.9" x2="1550" y2="168.9" stroke="#9b9da5" stroke-width="2.6"/>
<line x1="1542.2" y1="186.6" x2="1550" y2="186.6" stroke="#9b9da5" stroke-width="2.6"/>
<circle cx="1546.1" cy="177.4" r="4.3" fill="#9b9da5"/>
<line x1="1563.84" y1="145.5" x2="1563.84" y2="229.1" stroke="#46bba5" stroke-width="2.2"/>
<line x1="1559.94" y1="145.5" x2="1567.74" y2="145.5" stroke="#46bba5" stroke-width="2.6"/>
<line x1="1559.94" y1="229.1" x2="1567.74" y2="229.1" stroke="#46bba5" stroke-width="2.6"/>
<circle cx="1563.84" cy="186.9" r="4.3" fill="#46bba5"/>
<line x1="1574.14" y1="162.7" x2="1574.14" y2="196.7" stroke="#5fa8cc" stroke-width="2.2"/>
<line x1="1570.24" y1="162.7" x2="1578.04" y2="162.7" stroke="#5fa8cc" stroke-width="2.6"/>
<line x1="1570.24" y1="196.7" x2="1578.04" y2="196.7" stroke="#5fa8cc" stroke-width="2.6"/>
<circle cx="1574.14" cy="179.8" r="4.3" fill="#5fa8cc"/>
<line x1="1584.54" y1="203.1" x2="1584.54" y2="227.3" stroke="#dea091" stroke-width="2.2"/>
<line x1="1580.64" y1="203.1" x2="1588.44" y2="203.1" stroke="#dea091" stroke-width="2.6"/>
<line x1="1580.64" y1="227.3" x2="1588.44" y2="227.3" stroke="#dea091" stroke-width="2.6"/>
<circle cx="1584.54" cy="215.3" r="4.3" fill="#dea091"/>
<line x1="1594.84" y1="169.7" x2="1594.84" y2="202.2" stroke="#9b9da5" stroke-width="2.2"/>
<line x1="1590.94" y1="169.7" x2="1598.74" y2="169.7" stroke="#9b9da5" stroke-width="2.6"/>
<line x1="1590.94" y1="202.2" x2="1598.74" y2="202.2" stroke="#9b9da5" stroke-width="2.6"/>
<circle cx="1594.84" cy="186.2" r="4.3" fill="#9b9da5"/>
<line x1="1612.58" y1="144.9" x2="1612.58" y2="208.2" stroke="#46bba5" stroke-width="2.2"/>
<line x1="1608.68" y1="144.9" x2="1616.48" y2="144.9" stroke="#46bba5" stroke-width="2.6"/>
<line x1="1608.68" y1="208.2" x2="1616.48" y2="208.2" stroke="#46bba5" stroke-width="2.6"/>
<circle cx="1612.58" cy="176.5" r="4.3" fill="#46bba5"/>
<line x1="1622.88" y1="134.3" x2="1622.88" y2="193.3" stroke="#5fa8cc" stroke-width="2.2"/>
<line x1="1618.98" y1="134.3" x2="1626.78" y2="134.3" stroke="#5fa8cc" stroke-width="2.6"/>
<line x1="1618.98" y1="193.3" x2="1626.78" y2="193.3" stroke="#5fa8cc" stroke-width="2.6"/>
<circle cx="1622.88" cy="163.9" r="4.3" fill="#5fa8cc"/>
<line x1="1633.28" y1="181.3" x2="1633.28" y2="224.1" stroke="#dea091" stroke-width="2.2"/>
<line x1="1629.38" y1="181.3" x2="1637.18" y2="181.3" stroke="#dea091" stroke-width="2.6"/>
<line x1="1629.38" y1="224.1" x2="1637.18" y2="224.1" stroke="#dea091" stroke-width="2.6"/>
<circle cx="1633.28" cy="202.9" r="4.3" fill="#dea091"/>
<line x1="1643.58" y1="191" x2="1643.58" y2="199.9" stroke="#9b9da5" stroke-width="2.2"/>
<line x1="1639.68" y1="191" x2="1647.48" y2="191" stroke="#9b9da5" stroke-width="2.6"/>
<line x1="1639.68" y1="199.9" x2="1647.48" y2="199.9" stroke="#9b9da5" stroke-width="2.6"/>
<circle cx="1643.58" cy="195.4" r="4.3" fill="#9b9da5"/>
<line x1="1656.62" y1="99.7" x2="1656.62" y2="217.6" stroke="#46bba5" stroke-width="2.2"/>
<line x1="1652.72" y1="99.7" x2="1660.52" y2="99.7" stroke="#46bba5" stroke-width="2.6"/>
<line x1="1652.72" y1="217.6" x2="1660.52" y2="217.6" stroke="#46bba5" stroke-width="2.6"/>
<circle cx="1656.62" cy="158.6" r="4.3" fill="#46bba5"/>
<line x1="1666.92" y1="195.4" x2="1666.92" y2="216.2" stroke="#5fa8cc" stroke-width="2.2"/>
<line x1="1663.02" y1="195.4" x2="1670.82" y2="195.4" stroke="#5fa8cc" stroke-width="2.6"/>
<line x1="1663.02" y1="216.2" x2="1670.82" y2="216.2" stroke="#5fa8cc" stroke-width="2.6"/>
<circle cx="1666.92" cy="205.7" r="4.3" fill="#5fa8cc"/>
<line x1="1677.32" y1="159.5" x2="1677.32" y2="267.2" stroke="#dea091" stroke-width="2.2"/>
<line x1="1673.42" y1="159.5" x2="1681.22" y2="159.5" stroke="#dea091" stroke-width="2.6"/>
<line x1="1673.42" y1="267.2" x2="1681.22" y2="267.2" stroke="#dea091" stroke-width="2.6"/>
<circle cx="1677.32" cy="213.5" r="4.3" fill="#dea091"/>
<line x1="1687.62" y1="81.1" x2="1687.62" y2="208.7" stroke="#9b9da5" stroke-width="2.2"/>
<line x1="1683.72" y1="81.1" x2="1691.52" y2="81.1" stroke="#9b9da5" stroke-width="2.6"/>
<line x1="1683.72" y1="208.7" x2="1691.52" y2="208.7" stroke="#9b9da5" stroke-width="2.6"/>
<circle cx="1687.62" cy="144.9" r="4.3" fill="#9b9da5"/>
<line x1="1710.06" y1="84.7" x2="1710.06" y2="127.7" stroke="#46bba5" stroke-width="2.2"/>
<line x1="1706.16" y1="84.7" x2="1713.96" y2="84.7" stroke="#46bba5" stroke-width="2.6"/>
<line x1="1706.16" y1="127.7" x2="1713.96" y2="127.7" stroke="#46bba5" stroke-width="2.6"/>
<circle cx="1710.06" cy="106.3" r="4.3" fill="#46bba5"/>
<line x1="1720.36" y1="61.6" x2="1720.36" y2="91.8" stroke="#5fa8cc" stroke-width="2.2"/>
<line x1="1716.46" y1="61.6" x2="1724.26" y2="61.6" stroke="#5fa8cc" stroke-width="2.6"/>
<line x1="1716.46" y1="91.8" x2="1724.26" y2="91.8" stroke="#5fa8cc" stroke-width="2.6"/>
<circle cx="1720.36" cy="76.7" r="4.3" fill="#5fa8cc"/>
<line x1="1730.76" y1="88.8" x2="1730.76" y2="113" stroke="#dea091" stroke-width="2.2"/>
<line x1="1726.86" y1="88.8" x2="1734.66" y2="88.8" stroke="#dea091" stroke-width="2.6"/>
<line x1="1726.86" y1="113" x2="1734.66" y2="113" stroke="#dea091" stroke-width="2.6"/>
<circle cx="1730.76" cy="100.6" r="4.3" fill="#dea091"/>
<line x1="1741.06" y1="68.2" x2="1741.06" y2="106.3" stroke="#9b9da5" stroke-width="2.2"/>
<line x1="1737.16" y1="68.2" x2="1744.96" y2="68.2" stroke="#9b9da5" stroke-width="2.6"/>
<line x1="1737.16" y1="106.3" x2="1744.96" y2="106.3" stroke="#9b9da5" stroke-width="2.6"/>
<circle cx="1741.06" cy="87.3" r="4.3" fill="#9b9da5"/>
<line x1="1758.8" y1="61.1" x2="1758.8" y2="96.6" stroke="#46bba5" stroke-width="2.2"/>
<line x1="1754.9" y1="61.1" x2="1762.7" y2="61.1" stroke="#46bba5" stroke-width="2.6"/>
<line x1="1754.9" y1="96.6" x2="1762.7" y2="96.6" stroke="#46bba5" stroke-width="2.6"/>
<circle cx="1758.8" cy="78.5" r="4.3" fill="#46bba5"/>
<line x1="1769.1" y1="78.5" x2="1769.1" y2="95.8" stroke="#5fa8cc" stroke-width="2.2"/>
<line x1="1765.2" y1="78.5" x2="1773" y2="78.5" stroke="#5fa8cc" stroke-width="2.6"/>
<line x1="1765.2" y1="95.8" x2="1773" y2="95.8" stroke="#5fa8cc" stroke-width="2.6"/>
<circle cx="1769.1" cy="87.3" r="4.3" fill="#5fa8cc"/>
<line x1="1779.5" y1="65.7" x2="1779.5" y2="91.8" stroke="#dea091" stroke-width="2.2"/>
<line x1="1775.6" y1="65.7" x2="1783.4" y2="65.7" stroke="#dea091" stroke-width="2.6"/>
<line x1="1775.6" y1="91.8" x2="1783.4" y2="91.8" stroke="#dea091" stroke-width="2.6"/>
<circle cx="1779.5" cy="78.5" r="4.3" fill="#dea091"/>
<line x1="1789.8" y1="33.3" x2="1789.8" y2="69.3" stroke="#9b9da5" stroke-width="2.2"/>
<line x1="1785.9" y1="69.3" x2="1793.7" y2="69.3" stroke="#9b9da5" stroke-width="2.6"/>
<circle cx="1789.8" cy="33.3" r="4.3" fill="#9b9da5"/>
<circle cx="1832.2" cy="115" r="6.1" fill="#46bba5"/>
<text x="1860" y="124.8" font-size="29" fill="#000">TC</text>
<circle cx="1832.2" cy="170" r="6.1" fill="#5fa8cc"/>
<text x="1860" y="177.9" font-size="29" fill="#000">OTC</text>
<circle cx="1832.2" cy="222.2" r="6.1" fill="#dea091"/>
<text x="1860" y="231.9" font-size="29" fill="#000">TCs</text>
<circle cx="1832.2" cy="273.5" r="6.1" fill="#9b9da5"/>
<text x="1860" y="281.7" font-size="29" fill="#000">CK</text>
<ellipse cx="682.2" cy="52" rx="29.4" ry="27.6" fill="#fff" stroke="#b9babe" stroke-width="2.8"/>
<circle cx="682.2" cy="52.1" r="8.4" fill="#8dc63f"/>
<circle cx="674" cy="40.4" r="2.2" fill="#6a6b6d"/>
<circle cx="697.7" cy="40.1" r="2.2" fill="#6a6b6d"/>
<circle cx="661.5" cy="58" r="2.2" fill="#6a6b6d"/>
<circle cx="697.7" cy="59.6" r="2.2" fill="#6a6b6d"/>
<ellipse cx="1070.5" cy="56" rx="29.6" ry="27.6" fill="#fff" stroke="#b9babe" stroke-width="2.8"/>
<circle cx="1076.5" cy="46.8" r="8.4" fill="#8dc63f"/>
<circle cx="1059.8" cy="65.4" r="8.4" fill="#8dc63f"/>
<circle cx="1059.7" cy="45.5" r="2.2" fill="#6a6b6d"/>
<circle cx="1092.1" cy="45.5" r="2.2" fill="#6a6b6d"/>
<circle cx="1083.1" cy="61" r="2.2" fill="#6a6b6d"/>
<circle cx="1074.5" cy="71.6" r="2.2" fill="#6a6b6d"/>
<circle cx="1051.4" cy="51.9" r="2.3" fill="#f7941d"/>
<circle cx="1087.1" cy="69.5" r="2.3" fill="#f7941d"/>
<ellipse cx="1561" cy="53.3" rx="29.6" ry="27.8" fill="#fff" stroke="#b9babe" stroke-width="2.8"/>
<circle cx="1560.5" cy="42.7" r="8.4" fill="#8dc63f"/>
<circle cx="1549.5" cy="60.4" r="8.4" fill="#8dc63f"/>
<circle cx="1575.5" cy="59.9" r="8.4" fill="#8dc63f"/>
<circle cx="1548.6" cy="36" r="2.2" fill="#6a6b6d"/>
<circle cx="1575.5" cy="43.9" r="2.2" fill="#6a6b6d"/>
<circle cx="1546.5" cy="48.9" r="2.2" fill="#6a6b6d"/>
<circle cx="1584" cy="49.2" r="2.2" fill="#6a6b6d"/>
<circle cx="1562.8" cy="60.4" r="2.2" fill="#6a6b6d"/>
<circle cx="1560" cy="73.2" r="2.2" fill="#6a6b6d"/>
<circle cx="1573.4" cy="34.5" r="2.3" fill="#f7941d"/>
<circle cx="1538.9" cy="52.3" r="2.3" fill="#f7941d"/>
<text x="0" y="507.5" font-size="43" font-weight="bold" fill="#000">c</text>
<g fill="none" stroke="#a59c89" stroke-width="4">
<path d="M126.6 524.7 L159.6 581.6 A81 81 0 0 1 237.5 582 L267.3 530.8"/>
<path d="M198.8 572 L198.8 596.5"/>
<path d="M199.2 596 A53 53 0 0 1 225.7 694.9"/>
<path d="M235.24 616.55 A48.5 48.5 0 0 1 247.67 650.69"/>
<path d="M225.7 694.9 L273.4 778.9"/>
<path d="M251 649.8 L334.2 649.8"/>
<path d="M231.5 653.5 L248.3 656.7"/>
<path d="M230.92 654.7 A31.5 31.5 0 0 1 168 652.5"/>
<path d="M168 652.5 L168 649.6 L49.6 649.6"/>
<path d="M210.06 676.89 A29 29 0 0 1 182.98 674.04"/>
<path d="M212.5 674.5 L214.3 680.5"/>
<path d="M182.6 677.6 L127.6 772.8"/>
<path d="M301.8 749.5 L301.8 756.6 L358.5 756.6 L358.5 749.5"/>
</g>
<text x="125.6" y="520.6" font-size="28.5" text-anchor="middle" fill="#000">C2</text>
<text x="275.8" y="525.7" font-size="28.5" text-anchor="middle" fill="#000">A1</text>
<text x="27.9" y="663.4" font-size="28.5" text-anchor="middle" fill="#000">L3</text>
<text x="358.5" y="659.4" font-size="28.5" text-anchor="middle" fill="#000">S4</text>
<text x="124.3" y="798.1" font-size="28.5" text-anchor="middle" fill="#000">B4</text>
<text x="279" y="806.2" font-size="28.5" text-anchor="middle" fill="#000">P1</text>
<text x="186.1" y="597.6" font-size="17" text-anchor="middle" fill="#000">99</text>
<text x="235.4" y="651.3" font-size="17" text-anchor="middle" fill="#000">97</text>
<text x="330.1" y="747.5" font-size="23.5" text-anchor="middle" fill="#000">0.05</text>
<text x="402" y="507.8" font-size="43" font-weight="bold" fill="#000">d</text>
<rect x="535.5" y="518.3" width="46.6" height="54.5" fill="#c3aaa2"/>
<rect x="581.5" y="518.3" width="49.25" height="54.5" fill="#aeabba"/>
<rect x="630.15" y="518.3" width="49.25" height="54.5" fill="#aeabba"/>
<rect x="678.8" y="518.3" width="49.25" height="54.5" fill="#bfaaa8"/>
<rect x="727.45" y="518.3" width="49.25" height="54.5" fill="#c6aa9c"/>
<rect x="776.1" y="518.3" width="49.25" height="54.5" fill="#b4a7ae"/>
<rect x="824.75" y="518.3" width="49.25" height="54.5" fill="#c6aa9c"/>
<rect x="873.4" y="518.3" width="49.25" height="54.5" fill="#bcaaa8"/>
<rect x="922.05" y="518.3" width="49.25" height="54.5" fill="#bca8a6"/>
<rect x="970.7" y="518.3" width="49.25" height="54.5" fill="#c5a99c"/>
<rect x="1019.35" y="518.3" width="49.25" height="54.5" fill="#a5aec8"/>
<rect x="1068" y="518.3" width="49.25" height="54.5" fill="#a3aec8"/>
<rect x="1116.65" y="518.3" width="49.25" height="54.5" fill="#aeadbc"/>
<rect x="1165.3" y="518.3" width="49.25" height="54.5" fill="#9fadcc"/>
<rect x="1213.95" y="518.3" width="49.25" height="54.5" fill="#b0abb8"/>
<rect x="1262.6" y="518.3" width="49.25" height="54.5" fill="#b8a9ad"/>
<rect x="1311.25" y="518.3" width="49.25" height="54.5" fill="#99abcf"/>
<rect x="1359.9" y="518.3" width="49.25" height="54.5" fill="#9badcd"/>
<rect x="1408.55" y="518.3" width="49.25" height="54.5" fill="#a0abc6"/>
<rect x="1457.2" y="518.3" width="49.25" height="54.5" fill="#97abd3"/>
<rect x="1505.85" y="518.3" width="49.25" height="54.5" fill="#a6a9c4"/>
<rect x="1554.5" y="518.3" width="49.25" height="54.5" fill="#abaab9"/>
<rect x="1603.15" y="518.3" width="49.25" height="54.5" fill="#97abd1"/>
<rect x="1651.8" y="518.3" width="49.25" height="54.5" fill="#94aed8"/>
<rect x="1700.45" y="518.3" width="49.25" height="54.5" fill="#a3aec8"/>
<rect x="1749.1" y="518.3" width="48.5" height="54.5" fill="#a3aec8"/>
<rect x="535.5" y="572.2" width="46.6" height="55.7" fill="#c6aa9a"/>
<rect x="581.5" y="572.2" width="49.25" height="55.7" fill="#c6aa9a"/>
<rect x="630.15" y="572.2" width="49.25" height="55.7" fill="#9aaacc"/>
<rect x="678.8" y="572.2" width="49.25" height="55.7" fill="#aeaaba"/>
<rect x="727.45" y="572.2" width="49.25" height="55.7" fill="#d5a98a"/>
<rect x="776.1" y="572.2" width="49.25" height="55.7" fill="#95a8d2"/>
<rect x="824.75" y="572.2" width="49.25" height="55.7" fill="#d5a98a"/>
<rect x="873.4" y="572.2" width="49.25" height="55.7" fill="#c9aa9a"/>
<rect x="922.05" y="572.2" width="49.25" height="55.7" fill="#b8a8ae"/>
<rect x="970.7" y="572.2" width="49.25" height="55.7" fill="#b9aaa9"/>
<rect x="1019.35" y="572.2" width="49.25" height="55.7" fill="#8aacd5"/>
<rect x="1068" y="572.2" width="49.25" height="55.7" fill="#9eadcd"/>
<rect x="1116.65" y="572.2" width="49.25" height="55.7" fill="#a3aec8"/>
<rect x="1165.3" y="572.2" width="49.25" height="55.7" fill="#8aaad6"/>
<rect x="1213.95" y="572.2" width="49.25" height="55.7" fill="#8caad5"/>
<rect x="1262.6" y="572.2" width="49.25" height="55.7" fill="#abaabb"/>
<rect x="1311.25" y="572.2" width="49.25" height="55.7" fill="#89a9d6"/>
<rect x="1359.9" y="572.2" width="49.25" height="55.7" fill="#92aad4"/>
<rect x="1408.55" y="572.2" width="49.25" height="55.7" fill="#9eabc6"/>
<rect x="1457.2" y="572.2" width="49.25" height="55.7" fill="#8eaad3"/>
<rect x="1505.85" y="572.2" width="49.25" height="55.7" fill="#abadbb"/>
<rect x="1554.5" y="572.2" width="49.25" height="55.7" fill="#aeabb8"/>
<rect x="1603.15" y="572.2" width="49.25" height="55.7" fill="#95a9d2"/>
<rect x="1651.8" y="572.2" width="49.25" height="55.7" fill="#88abd7"/>
<rect x="1700.45" y="572.2" width="49.25" height="55.7" fill="#abadb8"/>
<rect x="1749.1" y="572.2" width="48.5" height="55.7" fill="#a3aec8"/>
<rect x="535.5" y="627.3" width="46.6" height="56.4" fill="#b5a8ae"/>
<rect x="581.5" y="627.3" width="49.25" height="56.4" fill="#b0a9b8"/>
<rect x="630.15" y="627.3" width="49.25" height="56.4" fill="#b4a9ad"/>
<rect x="678.8" y="627.3" width="49.25" height="56.4" fill="#a6a9c0"/>
<rect x="727.45" y="627.3" width="49.25" height="56.4" fill="#acabb9"/>
<rect x="776.1" y="627.3" width="49.25" height="56.4" fill="#bda9a6"/>
<rect x="824.75" y="627.3" width="49.25" height="56.4" fill="#c0a9a2"/>
<rect x="873.4" y="627.3" width="49.25" height="56.4" fill="#c4a99f"/>
<rect x="922.05" y="627.3" width="49.25" height="56.4" fill="#b0a8b5"/>
<rect x="970.7" y="627.3" width="49.25" height="56.4" fill="#aaa9b8"/>
<rect x="1019.35" y="627.3" width="49.25" height="56.4" fill="#b2acb9"/>
<rect x="1068" y="627.3" width="49.25" height="56.4" fill="#b0abb5"/>
<rect x="1116.65" y="627.3" width="49.25" height="56.4" fill="#bcaaa9"/>
<rect x="1165.3" y="627.3" width="49.25" height="56.4" fill="#a6a9c2"/>
<rect x="1213.95" y="627.3" width="49.25" height="56.4" fill="#a7a9c2"/>
<rect x="1262.6" y="627.3" width="49.25" height="56.4" fill="#aba9b9"/>
<rect x="1311.25" y="627.3" width="49.25" height="56.4" fill="#d0aa91"/>
<rect x="1359.9" y="627.3" width="49.25" height="56.4" fill="#cba996"/>
<rect x="1408.55" y="627.3" width="49.25" height="56.4" fill="#d4a98c"/>
<rect x="1457.2" y="627.3" width="49.25" height="56.4" fill="#cfa993"/>
<rect x="1505.85" y="627.3" width="49.25" height="56.4" fill="#d0aa91"/>
<rect x="1554.5" y="627.3" width="49.25" height="56.4" fill="#dda886"/>
<rect x="1603.15" y="627.3" width="49.25" height="56.4" fill="#cca898"/>
<rect x="1651.8" y="627.3" width="49.25" height="56.4" fill="#caa99a"/>
<rect x="1700.45" y="627.3" width="49.25" height="56.4" fill="#caa99a"/>
<rect x="1749.1" y="627.3" width="48.5" height="56.4" fill="#caa99a"/>
<rect x="535.5" y="683.1" width="46.6" height="53.6" fill="#a9aac0"/>
<rect x="581.5" y="683.1" width="49.25" height="53.6" fill="#c2a99f"/>
<rect x="630.15" y="683.1" width="49.25" height="53.6" fill="#c6aa9c"/>
<rect x="678.8" y="683.1" width="49.25" height="53.6" fill="#d5a98a"/>
<rect x="727.45" y="683.1" width="49.25" height="53.6" fill="#e4a980"/>
<rect x="776.1" y="683.1" width="49.25" height="53.6" fill="#c9a898"/>
<rect x="824.75" y="683.1" width="49.25" height="53.6" fill="#a6aac5"/>
<rect x="873.4" y="683.1" width="49.25" height="53.6" fill="#dca985"/>
<rect x="922.05" y="683.1" width="49.25" height="53.6" fill="#f3ab76"/>
<rect x="970.7" y="683.1" width="49.25" height="53.6" fill="#bfa9a6"/>
<rect x="1019.35" y="683.1" width="49.25" height="53.6" fill="#a6aac5"/>
<rect x="1068" y="683.1" width="49.25" height="53.6" fill="#c8a896"/>
<rect x="1116.65" y="683.1" width="49.25" height="53.6" fill="#b0abb9"/>
<rect x="1165.3" y="683.1" width="49.25" height="53.6" fill="#b6abae"/>
<rect x="1213.95" y="683.1" width="49.25" height="53.6" fill="#d3a98c"/>
<rect x="1262.6" y="683.1" width="49.25" height="53.6" fill="#a6a9c2"/>
<rect x="1311.25" y="683.1" width="49.25" height="53.6" fill="#cba998"/>
<rect x="1359.9" y="683.1" width="49.25" height="53.6" fill="#c7aa9b"/>
<rect x="1408.55" y="683.1" width="49.25" height="53.6" fill="#d4a98c"/>
<rect x="1457.2" y="683.1" width="49.25" height="53.6" fill="#c7a99e"/>
<rect x="1505.85" y="683.1" width="49.25" height="53.6" fill="#d4a98e"/>
<rect x="1554.5" y="683.1" width="49.25" height="53.6" fill="#d4a98e"/>
<rect x="1603.15" y="683.1" width="49.25" height="53.6" fill="#caa99a"/>
<rect x="1651.8" y="683.1" width="49.25" height="53.6" fill="#c4aaa3"/>
<rect x="1700.45" y="683.1" width="49.25" height="53.6" fill="#caa99a"/>
<rect x="1749.1" y="683.1" width="48.5" height="53.6" fill="#caa99a"/>
<rect x="534.3" y="517.1" width="1264.6" height="220.8" fill="none" stroke="#3d3d3f" stroke-width="3"/>
<text x="522.2" y="553.2" font-size="28" text-anchor="end" fill="#000">OTC-TCs</text>
<text x="522.2" y="609.7" font-size="28" text-anchor="end" fill="#000">OTC</text>
<text x="522.2" y="666.9" font-size="28" text-anchor="end" fill="#000">TC-TCs</text>
<text x="522.2" y="724" font-size="28" text-anchor="end" fill="#000">TC</text>
<rect x="582.1" y="741.9" width="51.9" height="51.6" fill="#e6e6e6"/>
<rect x="678.2" y="741.9" width="48.5" height="51.6" fill="#e6e6e6"/>
<rect x="874.3" y="742.1" width="146.6" height="72.4" fill="#e6e6e6"/>
<rect x="1068" y="742.1" width="50.4" height="72.4" fill="#e6e6e6"/>
<rect x="1169.4" y="742.1" width="95.6" height="72.4" fill="#e6e6e6"/>
<text x="559" y="777.8" font-size="28.5" text-anchor="middle" fill="#231f20">P1</text>
<text x="606.2" y="777.8" font-size="28.5" text-anchor="middle" fill="#231f20">A1</text>
<text x="655.6" y="777.8" font-size="28.5" text-anchor="middle" fill="#231f20">B4</text>
<text x="702" y="777.8" font-size="28.5" text-anchor="middle" fill="#231f20">C2</text>
<text x="757" y="777.8" font-size="28.5" text-anchor="middle" fill="#231f20">L3</text>
<text x="804" y="777.8" font-size="28.5" text-anchor="middle" fill="#231f20">S4</text>
<text x="851.7" y="777.8" font-size="28.5" text-anchor="middle" fill="#231f20">C</text>
<text x="851.7" y="805.2" font-size="28.5" text-anchor="middle" fill="#231f20">B</text>
<text x="900.5" y="777.8" font-size="28.5" text-anchor="middle" fill="#231f20">C</text>
<text x="900.5" y="805.2" font-size="28.5" text-anchor="middle" fill="#231f20">S</text>
<text x="950.4" y="777.8" font-size="28.5" text-anchor="middle" fill="#231f20">P</text>
<text x="950.4" y="805.2" font-size="28.5" text-anchor="middle" fill="#231f20">B</text>
<text x="999" y="777.8" font-size="28.5" text-anchor="middle" fill="#231f20">A</text>
<text x="999" y="805.2" font-size="28.5" text-anchor="middle" fill="#231f20">C</text>
<text x="1047" y="777.8" font-size="28.5" text-anchor="middle" fill="#231f20">S</text>
<text x="1047" y="805.2" font-size="28.5" text-anchor="middle" fill="#231f20">B</text>
<text x="1094.2" y="777.8" font-size="28.5" text-anchor="middle" fill="#231f20">P</text>
<text x="1094.2" y="805.2" font-size="28.5" text-anchor="middle" fill="#231f20">C</text>
<text x="1144.2" y="777.8" font-size="28.5" text-anchor="middle" fill="#231f20">A</text>
<text x="1144.2" y="805.2" font-size="28.5" text-anchor="middle" fill="#231f20">B</text>
<text x="1193.2" y="777.8" font-size="28.5" text-anchor="middle" fill="#231f20">A</text>
<text x="1193.2" y="805.2" font-size="28.5" text-anchor="middle" fill="#231f20">P</text>
<text x="1242.2" y="777.8" font-size="28.5" text-anchor="middle" fill="#231f20">A</text>
<text x="1242.2" y="805.2" font-size="28.5" text-anchor="middle" fill="#231f20">S</text>
<text x="1290.7" y="777.8" font-size="28.5" text-anchor="middle" fill="#231f20">P</text>
<text x="1290.7" y="805.2" font-size="28.5" text-anchor="middle" fill="#231f20">S</text>
<text x="1339.8" y="777.8" font-size="28.5" text-anchor="middle" fill="#231f20">A</text>
<text x="1339.8" y="805.2" font-size="28.5" text-anchor="middle" fill="#231f20">C</text>
<text x="1339.8" y="832.6" font-size="28.5" text-anchor="middle" fill="#231f20">B</text>
<text x="1388.3" y="777.8" font-size="28.5" text-anchor="middle" fill="#231f20">A</text>
<text x="1388.3" y="805.2" font-size="28.5" text-anchor="middle" fill="#231f20">P</text>
<text x="1388.3" y="832.6" font-size="28.5" text-anchor="middle" fill="#231f20">B</text>
<text x="1437.3" y="777.8" font-size="28.5" text-anchor="middle" fill="#231f20">A</text>
<text x="1437.3" y="805.2" font-size="28.5" text-anchor="middle" fill="#231f20">P</text>
<text x="1437.3" y="832.6" font-size="28.5" text-anchor="middle" fill="#231f20">C</text>
<text x="1486.4" y="777.8" font-size="28.5" text-anchor="middle" fill="#231f20">A</text>
<text x="1486.4" y="805.2" font-size="28.5" text-anchor="middle" fill="#231f20">C</text>
<text x="1486.4" y="832.6" font-size="28.5" text-anchor="middle" fill="#231f20">S</text>
<text x="1535.9" y="777.8" font-size="28.5" text-anchor="middle" fill="#231f20">P</text>
<text x="1535.9" y="805.2" font-size="28.5" text-anchor="middle" fill="#231f20">C</text>
<text x="1535.9" y="832.6" font-size="28.5" text-anchor="middle" fill="#231f20">B</text>
<text x="1584.4" y="777.8" font-size="28.5" text-anchor="middle" fill="#231f20">P</text>
<text x="1584.4" y="805.2" font-size="28.5" text-anchor="middle" fill="#231f20">C</text>
<text x="1584.4" y="832.6" font-size="28.5" text-anchor="middle" fill="#231f20">S</text>
<text x="1632.5" y="777.8" font-size="28.5" text-anchor="middle" fill="#231f20">A</text>
<text x="1632.5" y="805.2" font-size="28.5" text-anchor="middle" fill="#231f20">P</text>
<text x="1632.5" y="832.6" font-size="28.5" text-anchor="middle" fill="#231f20">S</text>
<text x="1676.8" y="777.8" font-size="28.5" text-anchor="middle" fill="#231f20">A</text>
<text x="1676.8" y="805.2" font-size="28.5" text-anchor="middle" fill="#231f20">S</text>
<text x="1676.8" y="832.6" font-size="28.5" text-anchor="middle" fill="#231f20">B</text>
<text x="1729.6" y="777.8" font-size="28.5" text-anchor="middle" fill="#231f20">P</text>
<text x="1729.6" y="805.2" font-size="28.5" text-anchor="middle" fill="#231f20">S</text>
<text x="1729.6" y="832.6" font-size="28.5" text-anchor="middle" fill="#231f20">B</text>
<text x="1778.6" y="777.8" font-size="28.5" text-anchor="middle" fill="#231f20">C</text>
<text x="1778.6" y="805.2" font-size="28.5" text-anchor="middle" fill="#231f20">S</text>
<text x="1778.6" y="832.6" font-size="28.5" text-anchor="middle" fill="#231f20">B</text>
<defs><linearGradient id="cb" x1="0" y1="0" x2="0" y2="1"><stop offset="0" stop-color="#f6ad76"/><stop offset="0.13" stop-color="#dcaa8c"/><stop offset="0.27" stop-color="#c6a9a3"/><stop offset="0.5" stop-color="#aaa9ba"/><stop offset="0.75" stop-color="#93a9d0"/><stop offset="1" stop-color="#84a8d8"/></linearGradient></defs>
<rect x="1873.4" y="518.6" width="30.8" height="221.9" fill="url(#cb)" stroke="#231f20" stroke-width="2.6"/>
<line x1="1874.7" y1="530.7" x2="1879" y2="530.7" stroke="#231f20" stroke-width="2"/>
<line x1="1898.6" y1="530.7" x2="1902.9" y2="530.7" stroke="#231f20" stroke-width="2"/>
<text x="1913.8" y="537.5" font-size="27" fill="#000">10</text>
<line x1="1874.7" y1="581.4" x2="1879" y2="581.4" stroke="#231f20" stroke-width="2"/>
<line x1="1898.6" y1="581.4" x2="1902.9" y2="581.4" stroke="#231f20" stroke-width="2"/>
<text x="1913.8" y="588.2" font-size="27" fill="#000">9</text>
<line x1="1874.7" y1="631.7" x2="1879" y2="631.7" stroke="#231f20" stroke-width="2"/>
<line x1="1898.6" y1="631.7" x2="1902.9" y2="631.7" stroke="#231f20" stroke-width="2"/>
<text x="1913.8" y="638.5" font-size="27" fill="#000">8</text>
<line x1="1874.7" y1="682.1" x2="1879" y2="682.1" stroke="#231f20" stroke-width="2"/>
<line x1="1898.6" y1="682.1" x2="1902.9" y2="682.1" stroke="#231f20" stroke-width="2"/>
<text x="1913.8" y="688.9" font-size="27" fill="#000">7</text>
<line x1="1874.7" y1="732.5" x2="1879" y2="732.5" stroke="#231f20" stroke-width="2"/>
<line x1="1898.6" y1="732.5" x2="1902.9" y2="732.5" stroke="#231f20" stroke-width="2"/>
<text x="1913.8" y="739.3" font-size="27" fill="#000">6</text>
<text font-size="29" fill="#000" transform="translate(1814.5,515.2) rotate(90)">Antibiotic residues</text>
<text x="0" y="870.6" font-size="43" font-weight="bold" fill="#000">e</text>
<line x1="125.1" y1="869.7" x2="125.1" y2="1072" stroke="#231f20" stroke-width="3.1"/>
<line x1="114.6" y1="1070.7" x2="345.6" y2="1070.7" stroke="#231f20" stroke-width="3.1" stroke-linecap="round"/>
<line x1="114.6" y1="871.5" x2="125.1" y2="871.5" stroke="#231f20" stroke-width="2.8"/>
<text x="112.4" y="880.27" font-size="23.7" text-anchor="end" fill="#000">8&#215;10<tspan font-size="14.69" dx="1.9" dy="-9.95">2</tspan></text>
<line x1="114.6" y1="921.5" x2="125.1" y2="921.5" stroke="#231f20" stroke-width="2.8"/>
<text x="112.4" y="930.27" font-size="23.7" text-anchor="end" fill="#000">6&#215;10<tspan font-size="14.69" dx="1.9" dy="-9.95">2</tspan></text>
<line x1="114.6" y1="971.4" x2="125.1" y2="971.4" stroke="#231f20" stroke-width="2.8"/>
<text x="112.4" y="980.17" font-size="23.7" text-anchor="end" fill="#000">4&#215;10<tspan font-size="14.69" dx="1.9" dy="-9.95">2</tspan></text>
<line x1="114.6" y1="1021.4" x2="125.1" y2="1021.4" stroke="#231f20" stroke-width="2.8"/>
<text x="112.4" y="1030.17" font-size="23.7" text-anchor="end" fill="#000">2&#215;10<tspan font-size="14.69" dx="1.9" dy="-9.95">2</tspan></text>
<line x1="114.6" y1="1070.7" x2="125.1" y2="1070.7" stroke="#231f20" stroke-width="2.8"/>
<text x="109.6" y="1079.47" font-size="23.7" text-anchor="end" fill="#000">0</text>
<line x1="168.6" y1="1070.7" x2="168.6" y2="1081.5" stroke="#231f20" stroke-width="2.8"/>
<line x1="234.2" y1="1070.7" x2="234.2" y2="1081.5" stroke="#231f20" stroke-width="2.8"/>
<line x1="300.3" y1="1070.7" x2="300.3" y2="1081.5" stroke="#231f20" stroke-width="2.8"/>
<text x="166.7" y="1113.2" font-size="28.7" text-anchor="middle" fill="#000">TC</text>
<text x="232.3" y="1113.2" font-size="28.7" text-anchor="middle" fill="#000">OTC</text>
<text x="303.5" y="1113.2" font-size="28.7" text-anchor="middle" fill="#000">TCs</text>
<text x="237.9" y="883.7" font-size="27.5" text-anchor="middle" fill="#000">A1</text>
<line x1="234.65" y1="1060.7" x2="234.65" y2="1057.6" stroke="#231f20" stroke-width="3.1"/>
<line x1="223.05" y1="1057.6" x2="246.25" y2="1057.6" stroke="#231f20" stroke-width="3.1" stroke-linecap="round"/>
<rect x="213.6" y="1062.2" width="42.1" height="8.5" fill="#8fbed9" stroke="#231f20" stroke-width="3.1" stroke-linejoin="round"/>
<circle cx="234.2" cy="1062.6" r="1.6" fill="#231f20"/>
<line x1="300.2" y1="962.4" x2="300.2" y2="900.6" stroke="#231f20" stroke-width="3.1"/>
<line x1="288.6" y1="900.6" x2="311.8" y2="900.6" stroke="#231f20" stroke-width="3.1" stroke-linecap="round"/>
<rect x="279.2" y="963.9" width="42" height="106.8" fill="#d9a493" stroke="#231f20" stroke-width="3.1" stroke-linejoin="round"/>
<circle cx="300.3" cy="891.2" r="1.6" fill="#231f20"/>
<circle cx="300.3" cy="995.7" r="1.6" fill="#231f20"/>
<circle cx="300.3" cy="1000.4" r="1.6" fill="#231f20"/>
<line x1="462" y1="871.3" x2="462" y2="1073.4" stroke="#231f20" stroke-width="3.1"/>
<line x1="451.5" y1="1072.1" x2="684" y2="1072.1" stroke="#231f20" stroke-width="3.1" stroke-linecap="round"/>
<line x1="451.5" y1="872.2" x2="462" y2="872.2" stroke="#231f20" stroke-width="2.8"/>
<text x="449.2" y="881.23" font-size="24.4" text-anchor="end" fill="#000">1.5&#215;10<tspan font-size="15.13" dx="1.95" dy="-10.25">4</tspan></text>
<line x1="451.5" y1="939.6" x2="462" y2="939.6" stroke="#231f20" stroke-width="2.8"/>
<text x="449.2" y="948.63" font-size="24.4" text-anchor="end" fill="#000">1&#215;10<tspan font-size="15.13" dx="1.95" dy="-10.25">4</tspan></text>
<line x1="451.5" y1="1006.5" x2="462" y2="1006.5" stroke="#231f20" stroke-width="2.8"/>
<text x="449.2" y="1015.53" font-size="24.4" text-anchor="end" fill="#000">5&#215;10<tspan font-size="15.13" dx="1.95" dy="-10.25">3</tspan></text>
<line x1="451.5" y1="1072.1" x2="462" y2="1072.1" stroke="#231f20" stroke-width="2.8"/>
<text x="447.1" y="1081.13" font-size="24.4" text-anchor="end" fill="#000">0</text>
<line x1="506" y1="1072.1" x2="506" y2="1082.9" stroke="#231f20" stroke-width="2.8"/>
<line x1="571.5" y1="1072.1" x2="571.5" y2="1082.9" stroke="#231f20" stroke-width="2.8"/>
<line x1="637.1" y1="1072.1" x2="637.1" y2="1082.9" stroke="#231f20" stroke-width="2.8"/>
<text x="506" y="1113.2" font-size="28.7" text-anchor="middle" fill="#000">TC</text>
<text x="571.5" y="1113.2" font-size="28.7" text-anchor="middle" fill="#000">OTC</text>
<text x="641.5" y="1113.2" font-size="28.7" text-anchor="middle" fill="#000">TCs</text>
<text x="579.5" y="883.7" font-size="27.5" text-anchor="middle" fill="#000">P1</text>
<line x1="505.95" y1="1069.8" x2="505.95" y2="1069" stroke="#231f20" stroke-width="3.1"/>
<line x1="494.35" y1="1069" x2="517.55" y2="1069" stroke="#231f20" stroke-width="3.1" stroke-linecap="round"/>
<rect x="485.3" y="1071.3" width="41.3" height="0.8" fill="#87cfbf" stroke="#231f20" stroke-width="3.1" stroke-linejoin="round"/>
<line x1="572" y1="1068.6" x2="572" y2="1067.5" stroke="#231f20" stroke-width="3.1"/>
<line x1="560.4" y1="1067.5" x2="583.6" y2="1067.5" stroke="#231f20" stroke-width="3.1" stroke-linecap="round"/>
<rect x="550.9" y="1070.1" width="42.2" height="2" fill="#8fbed9" stroke="#231f20" stroke-width="3.1" stroke-linejoin="round"/>
<line x1="637.5" y1="932.1" x2="637.5" y2="898.8" stroke="#231f20" stroke-width="3.1"/>
<line x1="625.9" y1="898.8" x2="649.1" y2="898.8" stroke="#231f20" stroke-width="3.1" stroke-linecap="round"/>
<rect x="616.4" y="933.6" width="42.2" height="138.5" fill="#d9a493" stroke="#231f20" stroke-width="3.1" stroke-linejoin="round"/>
<circle cx="638" cy="968.3" r="1.6" fill="#231f20"/>
<line x1="779" y1="874.9" x2="779" y2="1076.4" stroke="#231f20" stroke-width="3.1"/>
<line x1="768.5" y1="1075.1" x2="1000.1" y2="1075.1" stroke="#231f20" stroke-width="3.1" stroke-linecap="round"/>
<line x1="768.5" y1="876.6" x2="779" y2="876.6" stroke="#231f20" stroke-width="2.8"/>
<text x="766.2" y="884.37" font-size="21" text-anchor="end" fill="#000">6&#215;10<tspan font-size="13.02" dx="1.68" dy="-8.82">4</tspan></text>
<line x1="768.5" y1="942.6" x2="779" y2="942.6" stroke="#231f20" stroke-width="2.8"/>
<text x="766.2" y="950.37" font-size="21" text-anchor="end" fill="#000">4&#215;10<tspan font-size="13.02" dx="1.68" dy="-8.82">4</tspan></text>
<line x1="768.5" y1="1008.7" x2="779" y2="1008.7" stroke="#231f20" stroke-width="2.8"/>
<text x="766.2" y="1016.47" font-size="21" text-anchor="end" fill="#000">2&#215;10<tspan font-size="13.02" dx="1.68" dy="-8.82">4</tspan></text>
<line x1="768.5" y1="1075.1" x2="779" y2="1075.1" stroke="#231f20" stroke-width="2.8"/>
<text x="764.5" y="1082.87" font-size="21" text-anchor="end" fill="#000">0</text>
<line x1="822" y1="1075.1" x2="822" y2="1085.9" stroke="#231f20" stroke-width="2.8"/>
<line x1="888.5" y1="1075.1" x2="888.5" y2="1085.9" stroke="#231f20" stroke-width="2.8"/>
<line x1="954" y1="1075.1" x2="954" y2="1085.9" stroke="#231f20" stroke-width="2.8"/>
<text x="822" y="1118.5" font-size="28.7" text-anchor="middle" fill="#000">TC</text>
<text x="888.5" y="1118.5" font-size="28.7" text-anchor="middle" fill="#000">OTC</text>
<text x="958.5" y="1118.5" font-size="28.7" text-anchor="middle" fill="#000">TCs</text>
<text x="895.6" y="883.7" font-size="27.5" text-anchor="middle" fill="#000">C2</text>
<line x1="822.9" y1="904.1" x2="822.9" y2="887.3" stroke="#231f20" stroke-width="3.1"/>
<line x1="811.3" y1="887.3" x2="834.5" y2="887.3" stroke="#231f20" stroke-width="3.1" stroke-linecap="round"/>
<rect x="801.4" y="905.6" width="43" height="169.5" fill="#87cfbf" stroke="#231f20" stroke-width="3.1" stroke-linejoin="round"/>
<circle cx="822.9" cy="923.1" r="1.6" fill="#231f20"/>
<rect x="867.8" y="1073.1" width="42.2" height="2" fill="#8fbed9" stroke="#231f20" stroke-width="3.1" stroke-linejoin="round"/>
<line x1="954.55" y1="1060" x2="954.55" y2="1056.2" stroke="#231f20" stroke-width="3.1"/>
<line x1="942.95" y1="1056.2" x2="966.15" y2="1056.2" stroke="#231f20" stroke-width="3.1" stroke-linecap="round"/>
<rect x="933" y="1061.5" width="43.1" height="13.6" fill="#d9a493" stroke="#231f20" stroke-width="3.1" stroke-linejoin="round"/>
<circle cx="954" cy="1064.5" r="1.6" fill="#231f20"/>
<line x1="1090.4" y1="864.2" x2="1090.4" y2="1072.9" stroke="#231f20" stroke-width="3.1"/>
<line x1="1079.9" y1="1071.6" x2="1319" y2="1071.6" stroke="#231f20" stroke-width="3.1" stroke-linecap="round"/>
<line x1="1079.9" y1="866" x2="1090.4" y2="866" stroke="#231f20" stroke-width="2.8"/>
<text x="1076.6" y="874.21" font-size="22.2" text-anchor="end" fill="#000">3&#215;10<tspan font-size="13.76" dx="1.78" dy="-9.32">2</tspan></text>
<line x1="1079.9" y1="935.1" x2="1090.4" y2="935.1" stroke="#231f20" stroke-width="2.8"/>
<text x="1076.6" y="943.31" font-size="22.2" text-anchor="end" fill="#000">2&#215;10<tspan font-size="13.76" dx="1.78" dy="-9.32">2</tspan></text>
<line x1="1079.9" y1="1003.4" x2="1090.4" y2="1003.4" stroke="#231f20" stroke-width="2.8"/>
<text x="1076.6" y="1011.61" font-size="22.2" text-anchor="end" fill="#000">1&#215;10<tspan font-size="13.76" dx="1.78" dy="-9.32">2</tspan></text>
<line x1="1079.9" y1="1071.6" x2="1090.4" y2="1071.6" stroke="#231f20" stroke-width="2.8"/>
<text x="1075" y="1079.81" font-size="22.2" text-anchor="end" fill="#000">0</text>
<line x1="1135.6" y1="1071.6" x2="1135.6" y2="1082.4" stroke="#231f20" stroke-width="2.8"/>
<line x1="1203.4" y1="1071.6" x2="1203.4" y2="1082.4" stroke="#231f20" stroke-width="2.8"/>
<line x1="1271.1" y1="1071.6" x2="1271.1" y2="1082.4" stroke="#231f20" stroke-width="2.8"/>
<text x="1137.3" y="1113.2" font-size="28.7" text-anchor="middle" fill="#000">TC</text>
<text x="1202.9" y="1113.2" font-size="28.7" text-anchor="middle" fill="#000">OTC</text>
<text x="1275.6" y="1113.2" font-size="28.7" text-anchor="middle" fill="#000">TCs</text>
<text x="1205.6" y="883.7" font-size="27.5" text-anchor="middle" fill="#000">L3</text>
<line x1="1203.55" y1="975.4" x2="1203.55" y2="912.6" stroke="#231f20" stroke-width="3.1"/>
<line x1="1191.95" y1="912.6" x2="1215.15" y2="912.6" stroke="#231f20" stroke-width="3.1" stroke-linecap="round"/>
<rect x="1181.7" y="976.9" width="43.7" height="94.7" fill="#8fbed9" stroke="#231f20" stroke-width="3.1" stroke-linejoin="round"/>
<circle cx="1203.8" cy="903.2" r="1.6" fill="#231f20"/>
<circle cx="1203.8" cy="1009" r="1.6" fill="#231f20"/>
<circle cx="1203.8" cy="1013.1" r="1.6" fill="#231f20"/>
<line x1="1413" y1="866.9" x2="1413" y2="1075.5" stroke="#231f20" stroke-width="3.1"/>
<line x1="1402.5" y1="1074.2" x2="1641.6" y2="1074.2" stroke="#231f20" stroke-width="3.1" stroke-linecap="round"/>
<line x1="1402.5" y1="868.3" x2="1413" y2="868.3" stroke="#231f20" stroke-width="2.8"/>
<text x="1399.7" y="876.44" font-size="22" text-anchor="end" fill="#000">3&#215;10<tspan font-size="13.64" dx="1.76" dy="-9.24">4</tspan></text>
<line x1="1402.5" y1="937.3" x2="1413" y2="937.3" stroke="#231f20" stroke-width="2.8"/>
<text x="1399.7" y="945.44" font-size="22" text-anchor="end" fill="#000">2&#215;10<tspan font-size="13.64" dx="1.76" dy="-9.24">4</tspan></text>
<line x1="1402.5" y1="1005.7" x2="1413" y2="1005.7" stroke="#231f20" stroke-width="2.8"/>
<text x="1399.7" y="1013.84" font-size="22" text-anchor="end" fill="#000">1&#215;10<tspan font-size="13.64" dx="1.76" dy="-9.24">4</tspan></text>
<line x1="1402.5" y1="1074.2" x2="1413" y2="1074.2" stroke="#231f20" stroke-width="2.8"/>
<text x="1398" y="1082.34" font-size="22" text-anchor="end" fill="#000">0</text>
<line x1="1458.2" y1="1074.2" x2="1458.2" y2="1085" stroke="#231f20" stroke-width="2.8"/>
<line x1="1526.1" y1="1074.2" x2="1526.1" y2="1085" stroke="#231f20" stroke-width="2.8"/>
<line x1="1594.3" y1="1074.2" x2="1594.3" y2="1085" stroke="#231f20" stroke-width="2.8"/>
<text x="1460" y="1115.9" font-size="28.7" text-anchor="middle" fill="#000">TC</text>
<text x="1526.4" y="1115.9" font-size="28.7" text-anchor="middle" fill="#000">OTC</text>
<text x="1598.2" y="1115.9" font-size="28.7" text-anchor="middle" fill="#000">TCs</text>
<text x="1526.4" y="883.7" font-size="27.5" text-anchor="middle" fill="#000">B4</text>
<line x1="1458.95" y1="1028.2" x2="1458.95" y2="1017.9" stroke="#231f20" stroke-width="3.1"/>
<line x1="1447.35" y1="1017.9" x2="1470.55" y2="1017.9" stroke="#231f20" stroke-width="3.1" stroke-linecap="round"/>
<rect x="1437.2" y="1029.7" width="43.5" height="44.5" fill="#87cfbf" stroke="#231f20" stroke-width="3.1" stroke-linejoin="round"/>
<circle cx="1458.6" cy="1037" r="1.6" fill="#231f20"/>
<line x1="1526.65" y1="1020.2" x2="1526.65" y2="999.5" stroke="#231f20" stroke-width="3.1"/>
<line x1="1515.05" y1="999.5" x2="1538.25" y2="999.5" stroke="#231f20" stroke-width="3.1" stroke-linecap="round"/>
<rect x="1504.9" y="1021.7" width="43.5" height="52.5" fill="#8fbed9" stroke="#231f20" stroke-width="3.1" stroke-linejoin="round"/>
<circle cx="1526.4" cy="1039.3" r="1.6" fill="#231f20"/>
<line x1="1594.85" y1="995.4" x2="1594.85" y2="914.2" stroke="#231f20" stroke-width="3.1"/>
<line x1="1583.25" y1="914.2" x2="1606.45" y2="914.2" stroke="#231f20" stroke-width="3.1" stroke-linecap="round"/>
<rect x="1573.1" y="996.9" width="43.5" height="77.3" fill="#d9a493" stroke="#231f20" stroke-width="3.1" stroke-linejoin="round"/>
<circle cx="1594.3" cy="902.7" r="1.6" fill="#231f20"/>
<circle cx="1594.3" cy="1032.1" r="1.6" fill="#231f20"/>
<circle cx="1594.3" cy="1049.4" r="1.6" fill="#231f20"/>
<line x1="1737.5" y1="862.5" x2="1737.5" y2="1071.6" stroke="#231f20" stroke-width="3.1"/>
<line x1="1727" y1="1070.3" x2="1966.1" y2="1070.3" stroke="#231f20" stroke-width="3.1" stroke-linecap="round"/>
<line x1="1727" y1="864.2" x2="1737.5" y2="864.2" stroke="#231f20" stroke-width="2.8"/>
<text x="1724.2" y="872.19" font-size="21.6" text-anchor="end" fill="#000">1&#215;10<tspan font-size="13.39" dx="1.73" dy="-9.07">4</tspan></text>
<line x1="1727" y1="905.9" x2="1737.5" y2="905.9" stroke="#231f20" stroke-width="2.8"/>
<text x="1724.2" y="913.89" font-size="21.6" text-anchor="end" fill="#000">8&#215;10<tspan font-size="13.39" dx="1.73" dy="-9.07">3</tspan></text>
<line x1="1727" y1="947" x2="1737.5" y2="947" stroke="#231f20" stroke-width="2.8"/>
<text x="1724.2" y="954.99" font-size="21.6" text-anchor="end" fill="#000">6&#215;10<tspan font-size="13.39" dx="1.73" dy="-9.07">3</tspan></text>
<line x1="1727" y1="988.3" x2="1737.5" y2="988.3" stroke="#231f20" stroke-width="2.8"/>
<text x="1724.2" y="996.29" font-size="21.6" text-anchor="end" fill="#000">4&#215;10<tspan font-size="13.39" dx="1.73" dy="-9.07">3</tspan></text>
<line x1="1727" y1="1029.4" x2="1737.5" y2="1029.4" stroke="#231f20" stroke-width="2.8"/>
<text x="1724.2" y="1037.39" font-size="21.6" text-anchor="end" fill="#000">2&#215;10<tspan font-size="13.39" dx="1.73" dy="-9.07">3</tspan></text>
<line x1="1727" y1="1070.3" x2="1737.5" y2="1070.3" stroke="#231f20" stroke-width="2.8"/>
<text x="1722.5" y="1078.29" font-size="21.6" text-anchor="end" fill="#000">0</text>
<line x1="1783.2" y1="1070.3" x2="1783.2" y2="1081.1" stroke="#231f20" stroke-width="2.8"/>
<line x1="1850.9" y1="1070.3" x2="1850.9" y2="1081.1" stroke="#231f20" stroke-width="2.8"/>
<line x1="1919.1" y1="1070.3" x2="1919.1" y2="1081.1" stroke="#231f20" stroke-width="2.8"/>
<text x="1784.4" y="1111.4" font-size="28.7" text-anchor="middle" fill="#000">TC</text>
<text x="1850.5" y="1111.4" font-size="28.7" text-anchor="middle" fill="#000">OTC</text>
<text x="1922.6" y="1111.4" font-size="28.7" text-anchor="middle" fill="#000">TCs</text>
<text x="1850" y="883.7" font-size="27.5" text-anchor="middle" fill="#000">S4</text>
<line x1="1783.35" y1="1067.5" x2="1783.35" y2="1066.3" stroke="#231f20" stroke-width="3.1"/>
<line x1="1771.75" y1="1066.3" x2="1794.95" y2="1066.3" stroke="#231f20" stroke-width="3.1" stroke-linecap="round"/>
<rect x="1761.6" y="1069" width="43.5" height="1.3" fill="#87cfbf" stroke="#231f20" stroke-width="3.1" stroke-linejoin="round"/>
<line x1="1851.6" y1="1065" x2="1851.6" y2="1063.6" stroke="#231f20" stroke-width="3.1"/>
<line x1="1840" y1="1063.6" x2="1863.2" y2="1063.6" stroke="#231f20" stroke-width="3.1" stroke-linecap="round"/>
<rect x="1829.9" y="1066.5" width="43.4" height="3.8" fill="#8fbed9" stroke="#231f20" stroke-width="3.1" stroke-linejoin="round"/>
<line x1="1919.3" y1="976.2" x2="1919.3" y2="899.7" stroke="#231f20" stroke-width="3.1"/>
<line x1="1907.7" y1="899.7" x2="1930.9" y2="899.7" stroke="#231f20" stroke-width="3.1" stroke-linecap="round"/>
<rect x="1897.6" y="977.7" width="43.4" height="92.6" fill="#d9a493" stroke="#231f20" stroke-width="3.1" stroke-linejoin="round"/>
<circle cx="1919.1" cy="896.1" r="1.6" fill="#231f20"/>
<circle cx="1919.1" cy="984.4" r="1.6" fill="#231f20"/>
<circle cx="1919.1" cy="1048.2" r="1.6" fill="#231f20"/>
<text font-size="28.5" fill="#000" text-anchor="middle" transform="translate(28.1,968) rotate(-90)">Abundance</text>
<text x="2" y="1166.5" font-size="43" font-weight="bold" fill="#000">f</text>
<clipPath id="fclip"><rect x="0" y="1284" width="640" height="200"/></clipPath>
<line x1="121.2" y1="1173" x2="121.2" y2="1261.2" stroke="#231f20" stroke-width="2.8"/>
<line x1="121.2" y1="1284.9" x2="121.2" y2="1388" stroke="#231f20" stroke-width="2.8"/>
<line x1="111.5" y1="1251.7" x2="129.9" y2="1269.7" stroke="#231f20" stroke-width="2.8" stroke-linecap="round"/>
<line x1="111.5" y1="1275.4" x2="129.9" y2="1293.5" stroke="#231f20" stroke-width="2.8" stroke-linecap="round"/>
<line x1="105.3" y1="1386.6" x2="609.3" y2="1386.6" stroke="#231f20" stroke-width="2.8"/>
<line x1="105.3" y1="1176" x2="121.2" y2="1176" stroke="#231f20" stroke-width="2.8"/>
<text x="103.6" y="1186" font-size="28.3" text-anchor="end" fill="#000">1600</text>
<line x1="105.3" y1="1218.1" x2="121.2" y2="1218.1" stroke="#231f20" stroke-width="2.8"/>
<text x="103.6" y="1228.1" font-size="28.3" text-anchor="end" fill="#000">1300</text>
<text x="103.6" y="1269" font-size="28.3" text-anchor="end" fill="#000">1000</text>
<line x1="105.3" y1="1305.9" x2="121.2" y2="1305.9" stroke="#231f20" stroke-width="2.8"/>
<text x="103.6" y="1315.9" font-size="28.3" text-anchor="end" fill="#000">100</text>
<line x1="105.3" y1="1346" x2="121.2" y2="1346" stroke="#231f20" stroke-width="2.8"/>
<text x="103.6" y="1356" font-size="28.3" text-anchor="end" fill="#000">50</text>
<line x1="105.3" y1="1386.6" x2="121.2" y2="1386.6" stroke="#231f20" stroke-width="2.8"/>
<text x="103.6" y="1396.6" font-size="28.3" text-anchor="end" fill="#000">0</text>
<line x1="167.5" y1="1386.6" x2="167.5" y2="1400.9" stroke="#231f20" stroke-width="2.8"/>
<line x1="266.3" y1="1386.6" x2="266.3" y2="1400.9" stroke="#231f20" stroke-width="2.8"/>
<line x1="364.6" y1="1386.6" x2="364.6" y2="1400.9" stroke="#231f20" stroke-width="2.8"/>
<line x1="462.5" y1="1386.6" x2="462.5" y2="1400.9" stroke="#231f20" stroke-width="2.8"/>
<line x1="560.8" y1="1386.6" x2="560.8" y2="1400.9" stroke="#231f20" stroke-width="2.8"/>
<text font-size="27" fill="#000" transform="translate(99.7,1473.5) rotate(-27.4)">Exchange</text>
<text font-size="27" fill="#000" transform="translate(115.1,1489.4) rotate(-27.4)">reactions</text>
<text font-size="27" fill="#000" transform="translate(203.8,1475.4) rotate(-27.4)">Transport</text>
<text font-size="27" fill="#000" transform="translate(217.2,1492.1) rotate(-27.4)">reactions</text>
<text font-size="27" fill="#000" transform="translate(286.1,1491.4) rotate(-27.4)">Biochemical</text>
<text font-size="27" fill="#000" transform="translate(312.5,1499.7) rotate(-27.4)">reactions</text>
<text font-size="27" fill="#000" transform="translate(417.5,1474) rotate(-27.4)">Reactions</text>
<text font-size="27" fill="#000" transform="translate(498,1485) rotate(-27.4)">Metabolites</text>
<text font-size="28.5" fill="#000" text-anchor="middle" transform="translate(27.1,1272) rotate(-90)">Parameters</text>
<rect x="122" y="1318.8" width="17.6" height="17.6" fill="#bcd8e9" fill-opacity="0.88"/>
<rect x="137" y="1313" width="17.6" height="17.6" fill="#8cb8cb" fill-opacity="0.88"/>
<path d="M160.4 1305.2 L151 1322.5 L169.8 1322.5 Z" fill="#6e7588" fill-opacity="0.88"/>
<path d="M174.8 1329.1 L165 1311.8 L184.6 1311.8 Z" fill="#9986ad" fill-opacity="0.88"/>
<circle cx="189.8" cy="1299.8" r="8.9" fill="#e6a478" fill-opacity="0.88"/>
<circle cx="204.1" cy="1293.4" r="8.9" fill="#fbcf8b" fill-opacity="0.88"/>
<rect x="219.9" y="1325.1" width="17.6" height="17.6" fill="#bcd8e9" fill-opacity="0.88"/>
<rect x="235.2" y="1304.4" width="17.6" height="17.6" fill="#8cb8cb" fill-opacity="0.88"/>
<path d="M259 1301.1 L249.6 1318.4 L268.4 1318.4 Z" fill="#6e7588" fill-opacity="0.88"/>
<path d="M273.4 1320.5 L263.6 1303.2 L283.2 1303.2 Z" fill="#9986ad" fill-opacity="0.88"/>
<g clip-path="url(#fclip)">
<circle cx="288" cy="1293.1" r="8.9" fill="#e6a478" fill-opacity="0.88"/>
</g>
<g clip-path="url(#fclip)">
<circle cx="303" cy="1289.3" r="8.9" fill="#fbcf8b" fill-opacity="0.88"/>
</g>
<rect x="318.8" y="1221.5" width="17.6" height="17.6" fill="#bcd8e9" fill-opacity="0.88"/>
<rect x="333.5" y="1236.8" width="17.6" height="17.6" fill="#8cb8cb" fill-opacity="0.88"/>
<path d="M357.3 1239.9 L347.9 1257.2 L366.7 1257.2 Z" fill="#6e7588" fill-opacity="0.88"/>
<path d="M371.6 1225.8 L361.8 1208.5 L381.4 1208.5 Z" fill="#9986ad" fill-opacity="0.88"/>
<circle cx="386.6" cy="1216.5" r="8.9" fill="#e6a478" fill-opacity="0.88"/>
<circle cx="401.3" cy="1228.7" r="8.9" fill="#fbcf8b" fill-opacity="0.88"/>
<rect x="417" y="1201.7" width="17.6" height="17.6" fill="#bcd8e9" fill-opacity="0.88"/>
<rect x="432.3" y="1212.9" width="17.6" height="17.6" fill="#8cb8cb" fill-opacity="0.88"/>
<path d="M455.5 1214.3 L446.1 1231.6 L464.9 1231.6 Z" fill="#6e7588" fill-opacity="0.88"/>
<path d="M469.9 1201.8 L460.1 1184.5 L479.7 1184.5 Z" fill="#9986ad" fill-opacity="0.88"/>
<circle cx="484.9" cy="1185" r="8.9" fill="#e6a478" fill-opacity="0.88"/>
<circle cx="499.8" cy="1195.8" r="8.9" fill="#fbcf8b" fill-opacity="0.88"/>
<rect x="515.3" y="1190.5" width="17.6" height="17.6" fill="#bcd8e9" fill-opacity="0.88"/>
<rect x="530.9" y="1206.5" width="17.6" height="17.6" fill="#8cb8cb" fill-opacity="0.88"/>
<path d="M554.1 1208.6 L544.7 1225.9 L563.5 1225.9 Z" fill="#6e7588" fill-opacity="0.88"/>
<path d="M568.4 1187.5 L558.6 1170.2 L578.2 1170.2 Z" fill="#9986ad" fill-opacity="0.88"/>
<circle cx="583.7" cy="1188.8" r="8.9" fill="#e6a478" fill-opacity="0.88"/>
<circle cx="598.1" cy="1187.2" r="8.9" fill="#fbcf8b" fill-opacity="0.88"/>
<circle cx="76.6" cy="1540.8" r="8.9" fill="#fbcf8b" fill-opacity="0.88"/>
<text x="98.9" y="1549" font-size="27.5" fill="#000">A1</text>
<circle cx="171.6" cy="1540.8" r="8.9" fill="#e6a478" fill-opacity="0.88"/>
<text x="195.2" y="1549" font-size="27.5" fill="#000">P1</text>
<path d="M264.8 1551.3 L255 1534 L274.6 1534 Z" fill="#9986ad" fill-opacity="0.88"/>
<text x="286.4" y="1549" font-size="27.5" fill="#000">C2</text>
<path d="M354.1 1530.3 L344.7 1547.6 L363.5 1547.6 Z" fill="#6e7588" fill-opacity="0.88"/>
<text x="377.4" y="1549" font-size="27.5" fill="#000">L3</text>
<rect x="440" y="1532" width="17.6" height="17.6" fill="#8cb8cb" fill-opacity="0.88"/>
<text x="473" y="1549" font-size="27.5" fill="#000">B4</text>
<rect x="528.7" y="1532" width="17.6" height="17.6" fill="#bcd8e9" fill-opacity="0.88"/>
<text x="560.4" y="1549" font-size="27.5" fill="#000">S4</text>
<line x1="119.4" y1="1582" x2="119.4" y2="1680.2" stroke="#231f20" stroke-width="2.8"/>
<line x1="119.4" y1="1704.2" x2="119.4" y2="1801.4" stroke="#231f20" stroke-width="2.8"/>
<line x1="110.5" y1="1671.3" x2="128" y2="1689" stroke="#231f20" stroke-width="2.8" stroke-linecap="round"/>
<line x1="110.5" y1="1695.4" x2="128" y2="1713.1" stroke="#231f20" stroke-width="2.8" stroke-linecap="round"/>
<line x1="103.7" y1="1799.8" x2="614" y2="1799.8" stroke="#231f20" stroke-width="2.8"/>
<line x1="103.7" y1="1616.4" x2="119.6" y2="1616.4" stroke="#231f20" stroke-width="2.8"/>
<text x="97.3" y="1626" font-size="27.5" text-anchor="end" fill="#000">300</text>
<line x1="103.7" y1="1663.3" x2="119.6" y2="1663.3" stroke="#231f20" stroke-width="2.8"/>
<text x="97.3" y="1672.9" font-size="27.5" text-anchor="end" fill="#000">150</text>
<line x1="103.7" y1="1731.9" x2="119.6" y2="1731.9" stroke="#231f20" stroke-width="2.8"/>
<text x="97.3" y="1741.5" font-size="27.5" text-anchor="end" fill="#000">10</text>
<line x1="103.7" y1="1765.7" x2="119.6" y2="1765.7" stroke="#231f20" stroke-width="2.8"/>
<text x="97.3" y="1775.3" font-size="27.5" text-anchor="end" fill="#000">5</text>
<line x1="103.7" y1="1799.8" x2="119.6" y2="1799.8" stroke="#231f20" stroke-width="2.8"/>
<text x="97.3" y="1809.4" font-size="27.5" text-anchor="end" fill="#000">0</text>
<line x1="178" y1="1799.8" x2="178" y2="1814.2" stroke="#231f20" stroke-width="2.8"/>
<text x="179" y="1840.7" font-size="28.3" text-anchor="middle" fill="#000">CM</text>
<line x1="302.4" y1="1799.8" x2="302.4" y2="1814.2" stroke="#231f20" stroke-width="2.8"/>
<text x="303.4" y="1840.7" font-size="28.3" text-anchor="middle" fill="#000">MM+G</text>
<line x1="426.8" y1="1799.8" x2="426.8" y2="1814.2" stroke="#231f20" stroke-width="2.8"/>
<text x="427.8" y="1840.7" font-size="28.3" text-anchor="middle" fill="#000">MM+A</text>
<line x1="551.8" y1="1799.8" x2="551.8" y2="1814.2" stroke="#231f20" stroke-width="2.8"/>
<text x="552.8" y="1840.7" font-size="28.3" text-anchor="middle" fill="#000">MM+C</text>
<text font-size="28.5" fill="#000" text-anchor="middle" transform="translate(28.1,1684) rotate(-90)">Biomass</text>
<rect x="122.6" y="1641.8" width="17.6" height="17.6" fill="#bcd8e9" fill-opacity="0.88"/>
<rect x="141.1" y="1659.3" width="17.6" height="17.6" fill="#8cb8cb" fill-opacity="0.88"/>
<path d="M169 1660.8 L159.6 1678.1 L178.4 1678.1 Z" fill="#6e7588" fill-opacity="0.88"/>
<path d="M187.6 1663.6 L177.8 1646.3 L197.4 1646.3 Z" fill="#9986ad" fill-opacity="0.88"/>
<circle cx="206.4" cy="1605.3" r="8.9" fill="#e6a478" fill-opacity="0.88"/>
<circle cx="224.9" cy="1652.5" r="8.9" fill="#fbcf8b" fill-opacity="0.88"/>
<rect x="247.3" y="1711.9" width="17.6" height="17.6" fill="#bcd8e9" fill-opacity="0.88"/>
<rect x="266.2" y="1705.6" width="17.6" height="17.6" fill="#8cb8cb" fill-opacity="0.88"/>
<path d="M293.5 1711.8 L284.1 1729.1 L302.9 1729.1 Z" fill="#6e7588" fill-opacity="0.88"/>
<path d="M312 1730 L302.2 1712.7 L321.8 1712.7 Z" fill="#9986ad" fill-opacity="0.88"/>
<circle cx="330.8" cy="1721.1" r="8.9" fill="#e6a478" fill-opacity="0.88"/>
<circle cx="349.3" cy="1747.2" r="8.9" fill="#fbcf8b" fill-opacity="0.88"/>
<rect x="372.4" y="1762.3" width="17.6" height="17.6" fill="#bcd8e9" fill-opacity="0.88"/>
<rect x="389.9" y="1760.7" width="17.6" height="17.6" fill="#8cb8cb" fill-opacity="0.88"/>
<path d="M417.9 1767 L408.5 1784.3 L427.3 1784.3 Z" fill="#6e7588" fill-opacity="0.88"/>
<path d="M436.4 1780 L426.6 1762.7 L446.2 1762.7 Z" fill="#9986ad" fill-opacity="0.88"/>
<circle cx="455.2" cy="1768.9" r="8.9" fill="#e6a478" fill-opacity="0.88"/>
<circle cx="473.7" cy="1771.1" r="8.9" fill="#fbcf8b" fill-opacity="0.88"/>
<rect x="496.1" y="1711.9" width="17.6" height="17.6" fill="#bcd8e9" fill-opacity="0.88"/>
<rect x="515" y="1705.6" width="17.6" height="17.6" fill="#8cb8cb" fill-opacity="0.88"/>
<path d="M542.3 1719.2 L532.9 1736.5 L551.7 1736.5 Z" fill="#6e7588" fill-opacity="0.88"/>
<path d="M560.8 1735.4 L551 1718.1 L570.6 1718.1 Z" fill="#9986ad" fill-opacity="0.88"/>
<circle cx="579.9" cy="1729.7" r="8.9" fill="#e6a478" fill-opacity="0.88"/>
<circle cx="598.7" cy="1727.1" r="8.9" fill="#fbcf8b" fill-opacity="0.88"/>
<text x="652" y="1165.7" font-size="43" font-weight="bold" fill="#000">g</text>
<g stroke="#e1e2e4" stroke-width="3.2" fill="none" stroke-linejoin="round">
<path d="M932.6 1291.6 L975.5 1339.6"/>
<path d="M1093.8 1292.2 L1061.8 1351.7"/>
<path d="M1220.3 1441.4 L1110.9 1436"/>
<path d="M797 1462 L815.5 1471 L937.4 1480.6"/>
<path d="M797 1497.9 L815.5 1507 L933.3 1490.9"/>
<path d="M797 1535.1 L815.5 1543.4 L929.1 1517.4"/>
<path d="M949.8 1632.2 L1007.6 1564"/>
<path d="M1174.9 1634.3 L1026.2 1566.1"/>
</g>
<path d="M679.9 1167.1 L1134.5 1435.2 L993.4 1570.5 Z" fill="#f7b14b" fill-opacity="0.5"/>
<path d="M1018.3 1147.7 L921.3 1583.3 L1104.8 1512.6 Z" fill="#db7b2d" fill-opacity="0.5"/>
<path d="M1287.5 1242 L924 1368.5 L1024.1 1582.4 Z" fill="#4f2969" fill-opacity="0.5"/>
<path d="M1580.6 1615.3 L972.8 1358.4 L921.3 1541.5 Z" fill="#1d1d37" fill-opacity="0.5"/>
<path d="M699.9 1698.3 L1154.3 1293.5 L1065.5 1543.9 Z" fill="#99c3dd" fill-opacity="0.5"/>
<path d="M1129.5 1892.4 L920 1417.6 L1046.9 1268.7 Z" fill="#5f97b1" fill-opacity="0.5"/>
<text x="739.1" y="1191.4" font-size="30" font-weight="bold" fill="#f4a533">A1</text>
<text x="1038.8" y="1182.2" font-size="30" font-weight="bold" fill="#e07b2a">P1</text>
<text x="1203.8" y="1375.3" font-size="30" font-weight="bold" fill="#3b2a6b">C2</text>
<text x="1516.4" y="1582.3" font-size="30" font-weight="bold" fill="#1b3350">L3</text>
<text x="1042.7" y="1816" font-size="30" font-weight="bold" fill="#3a9cb9">B4</text>
<text x="755.7" y="1705.7" font-size="30" font-weight="bold" fill="#7bb9d9">S4</text>
<text x="857" y="1335.5" font-size="29.5" text-anchor="middle" font-weight="bold" fill="#c0182d">12</text>
<text x="1015.9" y="1263.1" font-size="29.5" text-anchor="middle" font-weight="bold" fill="#c0182d">11</text>
<text x="1032.3" y="1321" font-size="23" text-anchor="middle" font-weight="bold" fill="#000">11</text>
<text x="925.6" y="1280.7" font-size="23" text-anchor="middle" font-weight="bold" fill="#000">1</text>
<text x="1103.4" y="1280.7" font-size="23" text-anchor="middle" font-weight="bold" fill="#000">2</text>
<text x="1193" y="1317" font-size="23" text-anchor="middle" font-weight="bold" fill="#000">1</text>
<text x="944" y="1382.3" font-size="23" text-anchor="middle" font-weight="bold" fill="#000">2</text>
<text x="1105.7" y="1376.1" font-size="23" text-anchor="middle" font-weight="bold" fill="#000">1</text>
<text x="941.5" y="1433.9" font-size="23" text-anchor="middle" font-weight="bold" fill="#000">2</text>
<text x="1019.2" y="1479.4" font-size="23" text-anchor="middle" font-weight="bold" fill="#000">35</text>
<text x="1240.6" y="1450.4" font-size="23" text-anchor="middle" font-weight="bold" fill="#000">2</text>
<text x="788.1" y="1456.6" font-size="23" text-anchor="middle" fill="#000">0</text>
<text x="787.6" y="1491.7" font-size="23" text-anchor="middle" font-weight="bold" fill="#000">1</text>
<text x="788.1" y="1528.1" font-size="23" text-anchor="middle" fill="#000">0</text>
<text x="1093.7" y="1514.5" font-size="23" text-anchor="middle" font-weight="bold" fill="#000">3</text>
<text x="1265.4" y="1541.3" font-size="23" text-anchor="middle" font-weight="bold" fill="#000">5</text>
<text x="1077.8" y="1552.9" font-size="23" text-anchor="middle" fill="#000">0</text>
<text x="950.2" y="1566.1" font-size="23" text-anchor="middle" font-weight="bold" fill="#000">1</text>
<text x="869.2" y="1605.3" font-size="23" text-anchor="middle" font-weight="bold" fill="#000">2</text>
<text x="950.2" y="1654.9" font-size="23" text-anchor="middle" font-weight="bold" fill="#000">1</text>
<text x="1071.2" y="1663.2" font-size="23" text-anchor="middle" fill="#000">0</text>
<text x="1184.6" y="1654.9" font-size="23" text-anchor="middle" fill="#000">0</text>
<rect x="1393.9" y="1169.8" width="570" height="43.6" fill="#e6e7e9"/>
<rect x="1393.9" y="1213.4" width="570" height="42.8" fill="#fdebd3"/>
<rect x="1393.9" y="1256.2" width="570" height="42" fill="#fcd9c4"/>
<rect x="1393.9" y="1298.2" width="570" height="219.9" fill="#e2cfc4"/>
<rect x="1392.2" y="1168.1" width="573.4" height="351.7" fill="none" stroke="#bdbec2" stroke-width="3.5"/>
<text x="1406.7" y="1202.7" font-size="28.7" fill="#231f20">L-Histidine</text>
<text x="1943.8" y="1202.7" font-size="28" text-anchor="end" font-weight="bold" fill="#f4a533">A1</text>
<text x="1406.7" y="1244.7" font-size="28.7" fill="#231f20">Thymidine triphosphate</text>
<text x="1406.7" y="1287.5" font-size="28.7" fill="#231f20">Vitamin B3</text>
<text x="1406.7" y="1329" font-size="28.7" fill="#231f20">Taurine</text>
<text x="1406.7" y="1371.8" font-size="28.7" fill="#231f20">L-Cysteate</text>
<text x="1406.7" y="1414.6" font-size="28.7" fill="#231f20">Isethionate</text>
<text x="1406.7" y="1457.3" font-size="28.7" fill="#231f20">Sulfoacetate</text>
<text x="1406.7" y="1498" font-size="28.7" fill="#231f20">Morpholinopropane sulfonic acid</text>
<text x="1724.7" y="1331.1" font-size="27" fill="#231f20">Butanesulfonate</text>
<text x="1724.7" y="1373.9" font-size="27" fill="#231f20">Ethanesulfonate</text>
<text x="1724.7" y="1415.8" font-size="27" fill="#231f20">Hexanesulfonate</text>
<text x="1724.7" y="1458.6" font-size="27" fill="#231f20">Methanesulfonate</text>
<text font-size="27" fill="#58595b" text-anchor="middle" transform="translate(1975.5,1404) rotate(90)">Sulfonates</text>
<text x="1190.6" y="1167.7" font-size="27.5" fill="#58595b">Amino Acids</text>
<text x="1188.5" y="1229.7" font-size="27.5" fill="#58595b">Nucleotides</text>
<text x="1260.4" y="1335.4" font-size="27.5" fill="#58595b">Vitamins</text>
<g stroke="#bdbec2" stroke-width="3.2" fill="none">
<path d="M1272 1174.9 L1390 1190"/>
<path d="M1343.4 1227.6 L1390 1236.1"/>
<path d="M1325.4 1305.4 L1390 1281.9"/>
</g>
<rect x="1394.1" y="1626.4" width="254.1" height="86.2" fill="#e6e7e9"/>
<rect x="1394.1" y="1712.6" width="254.1" height="47.4" fill="#fdebd3"/>
<rect x="1394.1" y="1760" width="254.1" height="46" fill="#fcd9c4"/>
<rect x="1394.1" y="1806" width="254.1" height="45.9" fill="#e2cfc4"/>
<rect x="1648.2" y="1626.4" width="316.2" height="225.5" fill="#c9cbdb"/>
<line x1="1394.1" y1="1760" x2="1648.2" y2="1760" stroke="#f7c9a6" stroke-width="1"/>
<rect x="1392.4" y="1624.7" width="573.7" height="228.9" fill="none" stroke="#bdbec2" stroke-width="3.5"/>
<text x="1403.8" y="1659.2" font-size="28.8" fill="#231f20">L-Alanine</text>
<text x="1403.8" y="1703" font-size="28.8" fill="#231f20">L-Asparagine</text>
<text x="1403.8" y="1746.8" font-size="28.8" fill="#231f20">Xanthosine</text>
<text x="1403.8" y="1791.5" font-size="28.8" fill="#231f20">Vitamin B5</text>
<text x="1403.8" y="1836.2" font-size="28.8" fill="#231f20">Ferrichrome</text>
<text x="1665.3" y="1660.1" font-size="28.8" fill="#231f20">D-Xylose</text>
<text x="1665.3" y="1693.8" font-size="28.8" fill="#231f20">L-Arabinose</text>
<text x="1665.3" y="1728.9" font-size="28.8" fill="#231f20">D-Galactose</text>
<text x="1665.3" y="1763" font-size="28.8" fill="#231f20">D-Glucuronate</text>
<text x="1665.3" y="1801.1" font-size="28.8" fill="#231f20">D-Galacturonate</text>
<text x="1665.3" y="1834" font-size="28.8" fill="#231f20">Glycogenminusone</text>
<text x="1946.9" y="1662.3" font-size="28" text-anchor="end" font-weight="bold" fill="#e07b2a">P1</text>
<text font-size="27" fill="#58595b" text-anchor="middle" transform="translate(1975.5,1738) rotate(90)">Carbohydrates</text>
<text x="1190.4" y="1696.4" font-size="27.5" fill="#58595b">Amino Acids</text>
<text x="1178.2" y="1752.1" font-size="27.5" fill="#58595b">Nucleotides</text>
<text x="1197" y="1806.8" font-size="27.5" fill="#58595b">Vitamins</text>
<text x="1195.7" y="1857.2" font-size="27.5" fill="#58595b">Specialized</text>
<text x="1137.9" y="1881.3" font-size="27.5" fill="#58595b">Functional Molecules</text>
<g stroke="#bdbec2" stroke-width="3.2" fill="none">
<path d="M1269.3 1672.3 L1390.6 1649.1"/>
<path d="M1325.8 1741.1 L1390.6 1728"/>
<path d="M1307.4 1797.2 L1390.6 1781.4"/>
<path d="M1341.6 1838.4 L1390.6 1828.7"/>
</g>
</svg>
</body></html>
